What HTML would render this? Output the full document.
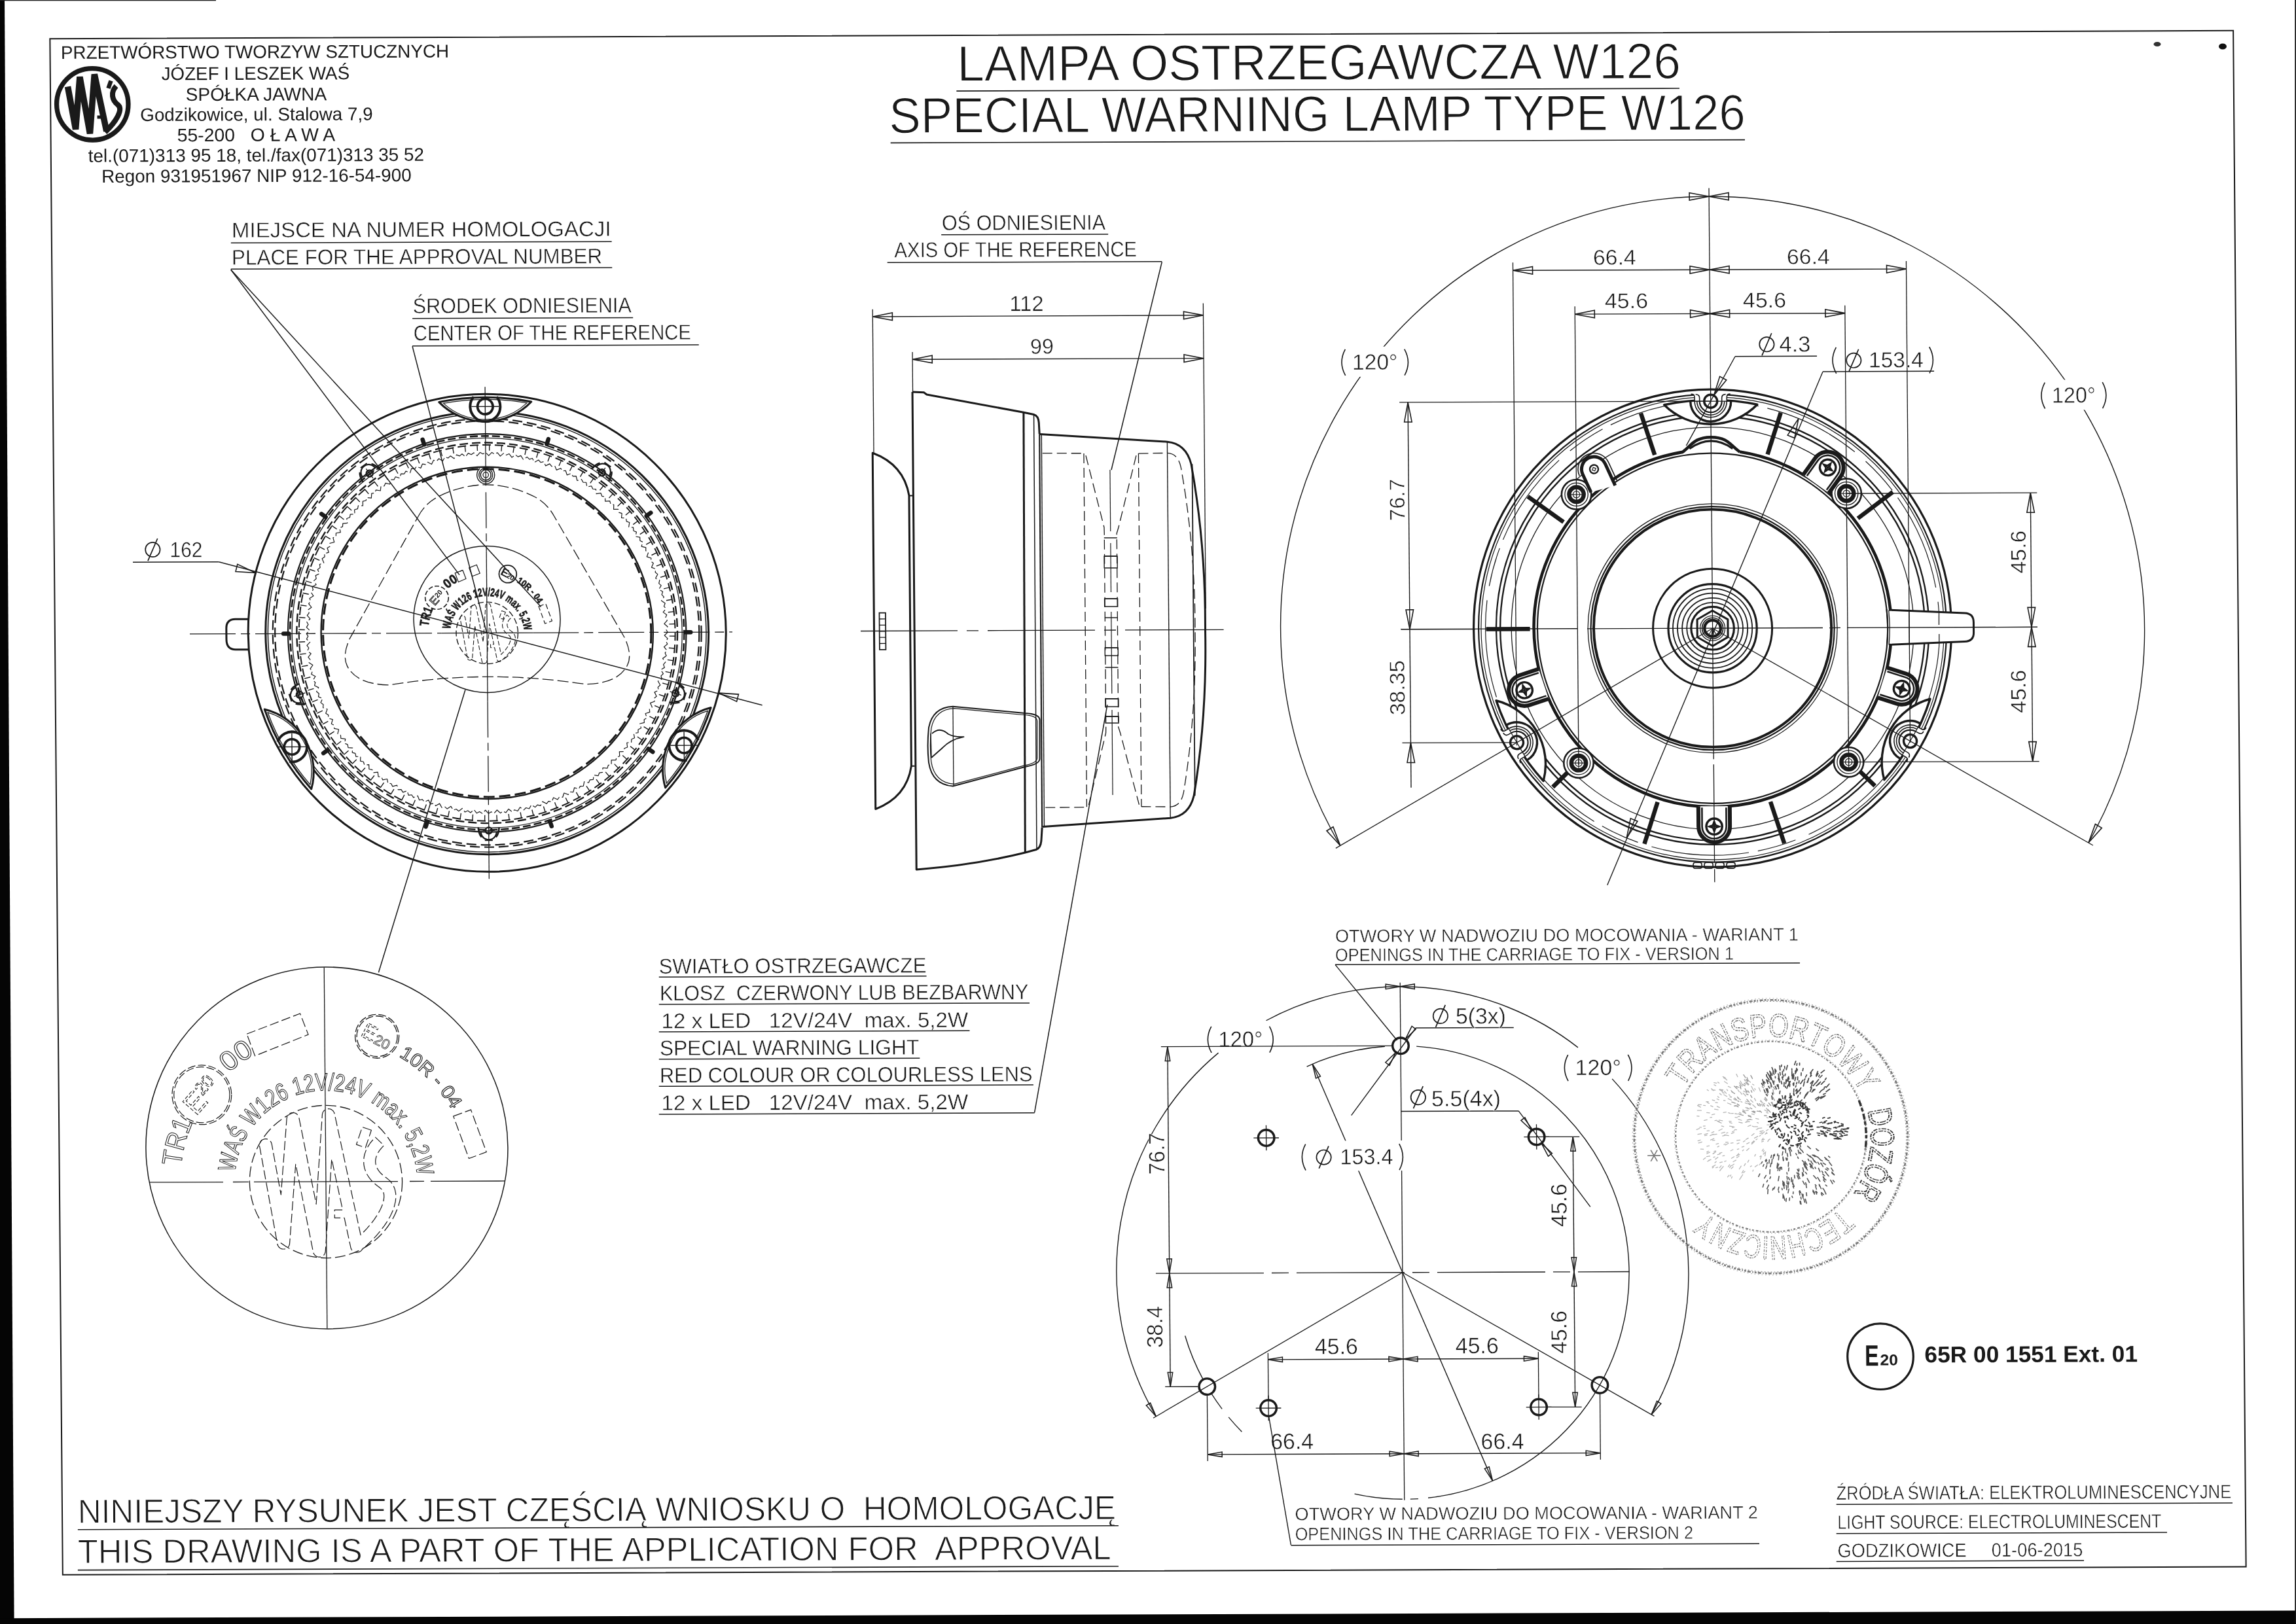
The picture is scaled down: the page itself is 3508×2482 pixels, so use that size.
<!DOCTYPE html>
<html><head><meta charset="utf-8"><title>LAMPA OSTRZEGAWCZA W126</title>
<style>
html,body{margin:0;padding:0;background:#fff}
body{width:3508px;height:2482px;overflow:hidden}
svg{display:block;filter:grayscale(1)}
svg text{font-family:"Liberation Sans",sans-serif;paint-order:fill stroke}
</style></head><body>
<svg width="3508" height="2482" viewBox="0 0 3508 2482">
<rect x="0" y="0" width="3508" height="2482" fill="#fff" stroke="none"/>
<g fill="none" stroke="#1a1a1a" stroke-width="1.5">
<g transform="matrix(1 -0.0037 0.0083 1 -10.3 6.490)">
<!-- s_static -->
<rect x="86.2" y="53" width="3335.8" height="2347.7" stroke-width="2"/>
<text x="102.6" y="83.8" textLength="593.2" lengthAdjust="spacingAndGlyphs" fill="#1a1a1a" stroke="none" font-size="28" xml:space="preserve">PRZETWÓRSTWO TWORZYW SZTUCZNYCH</text>
<text x="256" y="116.8" textLength="287.5" lengthAdjust="spacingAndGlyphs" fill="#1a1a1a" stroke="none" font-size="28" xml:space="preserve">JÓZEF I LESZEK WAŚ</text>
<text x="292.9" y="148.7" textLength="215.3" lengthAdjust="spacingAndGlyphs" fill="#1a1a1a" stroke="none" font-size="28" xml:space="preserve">SPÓŁKA JAWNA</text>
<text x="223.1" y="179.3" textLength="355.4" lengthAdjust="spacingAndGlyphs" fill="#1a1a1a" stroke="none" font-size="28" xml:space="preserve">Godzikowice, ul. Stalowa 7,9</text>
<text x="279.3" y="210.8" textLength="241.5" lengthAdjust="spacingAndGlyphs" fill="#1a1a1a" stroke="none" font-size="28" xml:space="preserve">55-200   O Ł A W A</text>
<text x="143.1" y="241.7" textLength="513.3" lengthAdjust="spacingAndGlyphs" fill="#1a1a1a" stroke="none" font-size="28" xml:space="preserve">tel.(071)313 95 18, tel./fax(071)313 35 52</text>
<text x="163.2" y="273.1" textLength="473.6" lengthAdjust="spacingAndGlyphs" fill="#1a1a1a" stroke="none" font-size="28" xml:space="preserve">Regon 931951967 NIP 912-16-54-900</text>
<circle cx="150.3" cy="153.4" r="54.7" stroke-width="7.3"/>
<g stroke-linejoin="bevel" stroke-linecap="butt">
<path d="M112.8 126.4 L124.3 191.5 L131.3 111.5 L146.1 198.1 L153.7 107.6 L171.5 194.6" stroke-width="9.6"/>
<path d="M157.4 173.1 L166.9 173.1" stroke-width="5"/>
<path d="M186.8 125.7 C177.7 135.2 180.1 147.2 189 154.2 S186.3 180.2 169.2 196.1" stroke-width="8"/>
<path d="M178.8 117.7 L174.7 129.2" stroke-width="6.5"/>
</g>
<text x="1471.8" y="122.8" textLength="1105.5" lengthAdjust="spacingAndGlyphs" fill="#1a1a1a" stroke="#fff" stroke-width="1.3" font-size="77">LAMPA OSTRZEGAWCZA W126</text>
<line x1="1470.5" y1="138.1" x2="2575.2" y2="138.1" stroke-width="1.6"/>
<text x="1367.1" y="201.7" textLength="1308.5" lengthAdjust="spacingAndGlyphs" fill="#1a1a1a" stroke="#fff" stroke-width="1.3" font-size="77">SPECIAL WARNING LAMP TYPE W126</text>
<line x1="1369.2" y1="217" x2="2674.5" y2="217" stroke-width="1.6"/>
<text x="110" y="2321.6" textLength="1586.2" lengthAdjust="spacingAndGlyphs" fill="#1a1a1a" stroke="#fff" stroke-width="1.1" font-size="51.5" xml:space="preserve">NINIEJSZY RYSUNEK JEST CZĘŚCIĄ WNIOSKU O  HOMOLOGACJĘ</text>
<line x1="109.8" y1="2331.6" x2="1699.9" y2="2331.6" stroke-width="1.6"/>
<text x="109.5" y="2383" textLength="1578.8" lengthAdjust="spacingAndGlyphs" fill="#1a1a1a" stroke="#fff" stroke-width="1.1" font-size="51.5" xml:space="preserve">THIS DRAWING IS A PART OF THE APPLICATION FOR  APPROVAL</text>
<line x1="109.3" y1="2393.5" x2="1699.4" y2="2393.5" stroke-width="1.6"/>
<text x="1004.8" y="1485.2" textLength="408.6" lengthAdjust="spacingAndGlyphs" fill="#1a1a1a" stroke="#fff" stroke-width="0.5" font-size="32.5" xml:space="preserve">SWIATŁO OSTRZEGAWCZE</text>
<line x1="1004.7" y1="1490.4" x2="1413.5" y2="1490.4" stroke-width="1.5"/>
<text x="1005.6" y="1526.3" textLength="563.5" lengthAdjust="spacingAndGlyphs" fill="#1a1a1a" stroke="#fff" stroke-width="0.5" font-size="32.5" xml:space="preserve">KLOSZ  CZERWONY LUB BEZBARWNY</text>
<line x1="1004.4" y1="1532.2" x2="1570.6" y2="1532.2" stroke-width="1.5"/>
<text x="1007.8" y="1568.7" textLength="468.9" lengthAdjust="spacingAndGlyphs" fill="#1a1a1a" stroke="#fff" stroke-width="0.5" font-size="32.5" xml:space="preserve">12 x LED   12V/24V  max. 5,2W</text>
<line x1="1004" y1="1574.2" x2="1478.7" y2="1574.2" stroke-width="1.5"/>
<text x="1004.9" y="1610.2" textLength="396.4" lengthAdjust="spacingAndGlyphs" fill="#1a1a1a" stroke="#fff" stroke-width="0.5" font-size="32.5" xml:space="preserve">SPECIAL WARNING LIGHT</text>
<line x1="1003.7" y1="1616" x2="1402.2" y2="1616" stroke-width="1.5"/>
<text x="1004.6" y="1651.9" textLength="569.6" lengthAdjust="spacingAndGlyphs" fill="#1a1a1a" stroke="#fff" stroke-width="0.5" font-size="32.5" xml:space="preserve">RED COLOUR OR COLOURLESS LENS</text>
<line x1="1003.3" y1="1657.4" x2="1575.5" y2="1657.4" stroke-width="1.5"/>
<text x="1006.7" y="1694" textLength="468.9" lengthAdjust="spacingAndGlyphs" fill="#1a1a1a" stroke="#fff" stroke-width="0.5" font-size="32.5" xml:space="preserve">12 x LED   12V/24V  max. 5,2W</text>
<line x1="1003" y1="1700.2" x2="1576.8" y2="1700.2" stroke-width="1.5"/>
<line x1="1576.8" y1="1699.8" x2="1693.2" y2="1076.8" stroke-width="1.5"/>
<text x="2796.9" y="2295.8" textLength="603.6" lengthAdjust="spacingAndGlyphs" fill="#1a1a1a" stroke="#fff" stroke-width="0.5" font-size="29.5" xml:space="preserve">ŹRÓDŁA ŚWIATŁA: ELEKTROLUMINESCENCYJNE</text>
<line x1="2796.9" y1="2303.1" x2="3402.2" y2="2303.1" stroke-width="1.5"/>
<text x="2798.4" y="2340.4" textLength="494.8" lengthAdjust="spacingAndGlyphs" fill="#1a1a1a" stroke="#fff" stroke-width="0.5" font-size="29.5" xml:space="preserve">LIGHT SOURCE: ELECTROLUMINESCENT</text>
<line x1="2796.5" y1="2347.7" x2="3301.8" y2="2347.7" stroke-width="1.5"/>
<text x="2798" y="2383.8" textLength="375" lengthAdjust="spacingAndGlyphs" fill="#1a1a1a" stroke="#fff" stroke-width="0.5" font-size="29.5" xml:space="preserve">GODZIKOWICE     01-06-2015</text>
<line x1="2796.2" y1="2390.3" x2="3174.5" y2="2390.3" stroke-width="1.5"/>
<circle cx="2866.1" cy="2077.3" r="50.3" stroke-width="3.2"/>
<text x="2842.2" y="2091.3" textLength="21.5" lengthAdjust="spacingAndGlyphs" font-weight="bold" fill="#1a1a1a" stroke="none" font-size="45">E</text>
<text x="2865.4" y="2090.6" textLength="27.5" lengthAdjust="spacingAndGlyphs" font-weight="bold" fill="#1a1a1a" stroke="none" font-size="23.5">20</text>
<text x="2933.6" y="2086.7" textLength="325.4" lengthAdjust="spacingAndGlyphs" font-weight="bold" fill="#1a1a1a" stroke="none" font-size="35" xml:space="preserve">65R 00 1551 Ext. 01</text>
<!-- s_front -->
<line x1="292.3" y1="963.5" x2="676.5" y2="963.6" stroke-width="1.3" stroke-dasharray="70 8 14 8"/>
<line x1="676.5" y1="963.6" x2="816.5" y2="963.6" stroke-width="1.3"/>
<line x1="816.5" y1="963.6" x2="1121.3" y2="963.6" stroke-width="1.3" stroke-dasharray="70 8 14 8"/>
<line x1="746.5" y1="587.6" x2="746.5" y2="738.6" stroke-width="1.3"/>
<line x1="746.5" y1="748.6" x2="746.5" y2="838.6" stroke-width="1.3" stroke-dasharray="55 8 12 8"/>
<line x1="746.5" y1="838.6" x2="746.5" y2="1068.6" stroke-width="1.3"/>
<line x1="746.5" y1="1068.6" x2="746.5" y2="1253.6" stroke-width="1.3" stroke-dasharray="55 8 12 8"/>
<line x1="746.5" y1="1253.6" x2="746.5" y2="1339.6" stroke-width="1.3"/>
<circle cx="746.5" cy="963.6" r="365" stroke-width="3"/>
<path d="M382.2 941.1 H362.2 Q348.2 941.1 348.2 955.1 V972.1 Q348.2 987.6 362.2 987.6 H382.7" stroke-width="3"/>
<circle cx="746.5" cy="963.6" r="338.4" stroke-width="3"/>
<circle cx="746.5" cy="963.6" r="334.8" stroke-width="1.5"/>
<circle cx="746.5" cy="963.6" r="327.4" stroke-width="2.2" stroke-dasharray="15 7"/>
<circle cx="746.5" cy="963.6" r="324" stroke-width="2.2" stroke-dasharray="15 7"/>
<circle cx="746.5" cy="963.6" r="304.2" stroke-width="2.2"/>
<circle cx="746.5" cy="963.6" r="301" stroke-width="2.6" stroke-dasharray="12 5"/>
<circle cx="746.5" cy="963.6" r="298" stroke-width="1.3"/>
<circle cx="746.5" cy="963.6" r="290.8" stroke-width="2.4" stroke-dasharray="13 6"/>
<circle cx="746.5" cy="963.6" r="287.4" stroke-width="2" stroke-dasharray="13 6"/>
<path d="M1034.4 969.6L1024.9 969.4M1033.4 988.4L1024 987.6M1031.2 1007.1L1021.8 1005.7M1027.7 1025.7L1018.5 1023.6M1023.1 1043.9L1013.9 1041.3M1017.2 1061.8L1008.3 1058.6M1010.2 1079.3L1001.5 1075.5M1002.1 1096.3L993.6 1092M992.8 1112.8L984.7 1107.8M982.6 1128.6L974.8 1123.1M971.3 1143.6L963.9 1137.7M959 1158L952 1151.5M945.8 1171.4L939.3 1164.6M931.8 1184L925.7 1176.8M917 1195.7L911.4 1188M901.5 1206.3L896.3 1198.3M885.2 1215.9L880.7 1207.6M868.4 1224.5L864.4 1215.9M851.1 1231.9L847.7 1223M833.3 1238.2L830.5 1229.1M815.2 1243.3L812.9 1234M796.8 1247.2L795.1 1237.8M778.1 1249.8L777.1 1240.4M759.3 1251.3L758.9 1241.8M740.5 1251.5L740.7 1242M721.7 1250.5L722.5 1241M702.9 1248.3L704.4 1238.9M684.4 1244.8L686.5 1235.5M666.2 1240.1L668.8 1231M648.2 1234.3L651.5 1225.4M630.7 1227.3L634.6 1218.6M613.7 1219.1L618.1 1210.7M597.3 1209.9L602.2 1201.8M581.5 1199.6L587 1191.8M566.4 1188.3L572.4 1180.9M552.1 1176.1L558.5 1169.1M538.6 1162.9L545.5 1156.3M526 1148.9L533.3 1142.8M514.4 1134.1L522.1 1128.4M503.7 1118.5L511.7 1113.4M494.1 1102.3L502.5 1097.7M485.6 1085.5L494.2 1081.5M478.2 1068.2L487 1064.7M471.9 1050.4L481 1047.6M466.8 1032.3L476 1030M462.9 1013.8L472.3 1012.2M460.2 995.2L469.7 994.1M458.8 976.4L468.3 976M458.6 957.5L468.1 957.7M459.6 938.7L469 939.5M461.8 920L471.2 921.4M465.3 901.5L474.6 903.5M469.9 883.2L479.1 885.9M475.8 865.3L484.7 868.5M482.8 847.8L491.5 851.6M490.9 830.8L499.4 835.2M500.2 814.4L508.3 819.3M510.4 798.6L518.2 804M521.7 783.5L529.2 789.4M534 769.2L541 775.6M547.2 755.7L553.7 762.6M561.2 743.1L567.3 750.4M576 731.5L581.6 739.1M591.5 720.8L596.7 728.8M607.8 711.2L612.3 719.5M624.6 702.7L628.6 711.3M641.9 695.2L645.3 704.1M659.7 689L662.5 698M677.8 683.9L680.1 693.1M696.2 680L697.9 689.3M714.9 677.3L715.9 686.8M733.7 675.9L734.1 685.3M752.5 675.6L752.3 685.1M771.4 676.6L770.5 686.1M790.1 678.9L788.6 688.3M808.6 682.3L806.5 691.6M826.9 687L824.2 696.1M844.8 692.9L841.5 701.8M862.3 699.9L858.4 708.6M879.3 708L874.9 716.4M895.7 717.2L890.8 725.4M911.5 727.5L906 735.3M926.6 738.8L920.6 746.2M940.9 751.1L934.5 758.1M954.4 764.2L947.5 770.8M967 778.3L959.7 784.4M978.6 793.1L971 798.7M989.3 808.6L981.3 813.7M998.9 824.8L990.6 829.4M1007.4 841.6L998.8 845.7M1014.8 859L1006 862.4M1021.1 876.7L1012 879.6M1026.2 894.9L1017 897.1M1030.1 913.3L1020.7 915M1032.8 932L1023.3 933M1034.2 950.8L1024.7 951.2" stroke-width="1.4"/>
<path d="M1022.5 963.6 L1017.5 968.3 L1022.3 973.2 L1019.7 977.4 L1021.9 981.6 L1016.6 986 L1021.1 991.2 L1018.2 995.2 L1020.1 999.6 L1014.5 1003.6 L1018.7 1009.1 L1015.5 1012.9 L1017.2 1017.4 L1011.3 1021.1 L1015.2 1026.8 L1011.7 1030.4 L1013.1 1035 L1007 1038.3 L1010.4 1044.3 L1006.8 1047.6 L1007.9 1052.3 L1001.6 1055.1 L1004.6 1061.4 L1000.7 1064.5 L1001.5 1069.2 L995 1071.6 L997.7 1078 L993.6 1080.9 L994 1085.6 L987.4 1087.7 L989.6 1094.2 L985.4 1096.8 L985.5 1101.6 L978.8 1103.1 L980.6 1109.8 L976.1 1112.1 L976 1116.9 L969.2 1118 L970.5 1124.8 L965.9 1126.8 L965.5 1131.6 L958.6 1132.3 L959.5 1139.1 L954.8 1140.8 L954 1145.6 L947.1 1145.8 L947.5 1152.7 L942.7 1154.1 L941.7 1158.7 L934.8 1158.5 L934.7 1165.4 L929.9 1166.5 L928.5 1171.1 L921.6 1170.4 L921.1 1177.3 L916.2 1178.1 L914.5 1182.5 L907.7 1181.4 L906.8 1188.3 L901.8 1188.7 L899.8 1193.1 L893.1 1191.5 L891.7 1198.3 L886.8 1198.4 L884.5 1202.6 L877.9 1200.6 L876.1 1207.3 L871.1 1207 L868.6 1211.1 L862.1 1208.7 L859.9 1215.2 L854.9 1214.7 L852.1 1218.6 L845.8 1215.7 L843.2 1222.1 L838.2 1221.2 L835.2 1224.9 L829.1 1221.7 L826 1227.9 L821.2 1226.7 L817.9 1230.2 L812.1 1226.5 L808.6 1232.5 L803.8 1231 L800.3 1234.3 L794.7 1230.2 L790.9 1236 L786.2 1234.2 L782.5 1237.2 L777.2 1232.8 L773 1238.3 L768.4 1236.2 L764.6 1239 L759.5 1234.3 L754.9 1239.4 L750.6 1237 L746.5 1239.6 L741.8 1234.5 L736.9 1239.4 L732.7 1236.7 L728.5 1239 L724.1 1233.6 L718.9 1238.2 L714.8 1235.2 L710.5 1237.2 L706.4 1231.6 L700.9 1235.8 L697.1 1232.6 L692.7 1234.3 L689 1228.4 L683.2 1232.2 L679.6 1228.8 L675.1 1230.2 L671.8 1224.1 L665.8 1227.5 L662.4 1223.8 L657.8 1224.9 L654.9 1218.6 L648.7 1221.7 L645.6 1217.8 L640.9 1218.6 L638.4 1212.1 L632 1214.7 L629.2 1210.6 L624.4 1211.1 L622.4 1204.5 L615.9 1206.7 L613.3 1202.4 L608.5 1202.6 L606.9 1195.9 L600.2 1197.6 L597.9 1193.2 L593.2 1193.1 L592 1186.2 L585.2 1187.6 L583.2 1183 L578.5 1182.5 L577.8 1175.7 L570.9 1176.5 L569.2 1171.9 L564.5 1171.1 L564.3 1164.2 L557.4 1164.6 L556 1159.8 L551.3 1158.7 L551.6 1151.8 L544.6 1151.8 L543.6 1146.9 L539 1145.6 L539.7 1138.7 L532.8 1138.2 L532 1133.3 L527.5 1131.6 L528.7 1124.8 L521.8 1123.8 L521.4 1118.9 L517 1116.9 L518.6 1110.2 L511.8 1108.8 L511.7 1103.8 L507.5 1101.6 L509.5 1095 L502.8 1093.1 L503 1088.2 L499 1085.6 L501.4 1079.2 L494.9 1076.9 L495.4 1072 L491.5 1069.2 L494.4 1062.9 L488 1060.2 L488.9 1055.3 L485.2 1052.3 L488.4 1046.2 L482.2 1043.1 L483.4 1038.3 L479.9 1035 L483.6 1029.1 L477.6 1025.7 L479.1 1020.9 L475.8 1017.4 L479.8 1011.8 L474.1 1007.9 L475.9 1003.3 L472.9 999.6 L477.2 994.3 L471.8 990 L473.9 985.5 L471.1 981.6 L475.8 976.6 L470.6 972 L473 967.6 L470.5 963.6 L475.5 958.8 L470.7 953.9 L473.4 949.7 L471.1 945.5 L476.4 941.1 L471.9 935.9 L474.8 931.9 L472.9 927.5 L478.5 923.5 L474.3 918 L477.5 914.2 L475.8 909.7 L481.7 906.1 L477.9 900.3 L481.3 896.7 L479.9 892.1 L486 888.9 L482.6 882.9 L486.2 879.5 L485.2 874.9 L491.4 872 L488.4 865.8 L492.3 862.7 L491.5 858 L498 855.5 L495.4 849.1 L499.4 846.3 L499 841.5 L505.6 839.5 L503.4 832.9 L507.6 830.4 L507.5 825.6 L514.2 824 L512.4 817.3 L516.9 815 L517 810.2 L523.8 809.1 L522.5 802.3 L527.1 800.3 L527.5 795.6 L534.4 794.9 L533.5 788 L538.2 786.3 L539 781.6 L545.9 781.4 L545.5 774.5 L550.3 773.1 L551.3 768.4 L558.3 768.6 L558.3 761.7 L563.1 760.6 L564.5 756.1 L571.4 756.7 L571.9 749.8 L576.8 749.1 L578.5 744.6 L585.3 745.7 L586.2 738.9 L591.2 738.4 L593.2 734.1 L599.9 735.7 L601.3 728.9 L606.3 728.8 L608.5 724.5 L615.1 726.6 L616.9 719.9 L621.9 720.1 L624.4 716 L630.9 718.5 L633.1 711.9 L638.1 712.5 L640.9 708.6 L647.2 711.4 L649.8 705.1 L654.8 705.9 L657.8 702.2 L663.9 705.5 L667 699.3 L671.8 700.5 L675.1 697 L680.9 700.6 L684.4 694.6 L689.2 696.1 L692.7 692.9 L698.3 696.9 L702.1 691.2 L706.8 693 L710.5 689.9 L715.8 694.3 L720 688.8 L724.6 691 L728.5 688.2 L733.5 692.9 L738.1 687.7 L742.4 690.1 L746.5 687.6 L751.2 692.6 L756.1 687.7 L760.3 690.4 L764.6 688.2 L768.9 693.5 L774.2 689 L778.2 691.9 L782.5 689.9 L786.6 695.5 L792.1 691.4 L795.9 694.6 L800.3 692.9 L804 698.7 L809.8 694.9 L813.4 698.4 L817.9 697 L821.2 703.1 L827.2 699.6 L830.6 703.3 L835.2 702.2 L838.1 708.5 L844.3 705.5 L847.4 709.4 L852.1 708.6 L854.6 715 L861 712.4 L863.8 716.5 L868.6 716 L870.6 722.6 L877.1 720.4 L879.7 724.7 L884.5 724.5 L886.1 731.3 L892.8 729.5 L895.1 733.9 L899.8 734.1 L901 740.9 L907.8 739.6 L909.8 744.1 L914.5 744.6 L915.2 751.5 L922.1 750.6 L923.8 755.3 L928.5 756.1 L928.7 763 L935.6 762.5 L937 767.3 L941.7 768.4 L941.4 775.3 L948.4 775.3 L949.4 780.2 L954 781.6 L953.3 788.5 L960.2 788.9 L961 793.9 L965.5 795.6 L964.3 802.4 L971.2 803.3 L971.6 808.3 L976 810.2 L974.4 817 L981.2 818.3 L981.3 823.3 L985.5 825.6 L983.5 832.2 L990.2 834 L990 839 L994 841.5 L991.6 848 L998.1 850.2 L997.6 855.2 L1001.5 858 L998.6 864.3 L1005 866.9 L1004.2 871.8 L1007.9 874.9 L1004.6 881 L1010.8 884 L1009.6 888.9 L1013.1 892.1 L1009.5 898 L1015.4 901.5 L1013.9 906.2 L1017.2 909.7 L1013.2 915.3 L1018.9 919.2 L1017.1 923.9 L1020.1 927.5 L1015.8 932.9 L1021.2 937.1 L1019.1 941.6 L1021.9 945.5 L1017.2 950.6 L1022.4 955.1 L1020 959.5Z" stroke-width="1.2" stroke-dasharray="16 4" stroke-linejoin="round"/>
<circle cx="746.5" cy="963.6" r="253.6" stroke-width="2.4"/>
<circle cx="746.5" cy="963.6" r="250.6" stroke-width="3" stroke-dasharray="17 7"/>
<line x1="650.4" y1="667.8" x2="652.9" y2="675.4" stroke-width="6.5" stroke-linecap="round"/>
<line x1="494.9" y1="780.8" x2="501.4" y2="785.5" stroke-width="6.5" stroke-linecap="round"/>
<line x1="435.5" y1="963.6" x2="443.5" y2="963.6" stroke-width="6.5" stroke-linecap="round"/>
<line x1="494.9" y1="1146.4" x2="501.4" y2="1141.7" stroke-width="6.5" stroke-linecap="round"/>
<line x1="650.4" y1="1259.4" x2="652.9" y2="1251.7" stroke-width="6.5" stroke-linecap="round"/>
<line x1="842.6" y1="667.8" x2="840.1" y2="675.4" stroke-width="6.5" stroke-linecap="round"/>
<line x1="998.1" y1="780.8" x2="991.6" y2="785.5" stroke-width="6.5" stroke-linecap="round"/>
<line x1="1057.5" y1="963.6" x2="1049.5" y2="963.6" stroke-width="6.5" stroke-linecap="round"/>
<line x1="998.1" y1="1146.4" x2="991.6" y2="1141.7" stroke-width="6.5" stroke-linecap="round"/>
<line x1="842.6" y1="1259.4" x2="840.1" y2="1251.7" stroke-width="6.5" stroke-linecap="round"/>
<g transform="translate(746.5 1265.6) rotate(0)">
<circle cx="0" cy="0" r="5" stroke-width="2.4"/>
<line x1="-9" y1="0" x2="9" y2="0" stroke-width="1.2"/>
<line x1="0" y1="-9" x2="0" y2="9" stroke-width="1.2"/>
<path d="M-12 2 A12 12 0 0 0 12 2" stroke-width="2.2"/>
<path d="M-16 -5 Q-15 6 -11 10 M16 -5 Q15 6 11 10" stroke-width="2.6"/>
<line x1="-6" y1="15" x2="6" y2="15" stroke-width="2"/>
</g>
<g transform="translate(459.3 1056.9) rotate(72)">
<circle cx="0" cy="0" r="5" stroke-width="2.4"/>
<line x1="-9" y1="0" x2="9" y2="0" stroke-width="1.2"/>
<line x1="0" y1="-9" x2="0" y2="9" stroke-width="1.2"/>
<path d="M-12 2 A12 12 0 0 0 12 2" stroke-width="2.2"/>
<path d="M-16 -5 Q-15 6 -11 10 M16 -5 Q15 6 11 10" stroke-width="2.6"/>
<line x1="-6" y1="15" x2="6" y2="15" stroke-width="2"/>
</g>
<g transform="translate(569 719.2) rotate(144)">
<circle cx="0" cy="0" r="5" stroke-width="2.4"/>
<line x1="-9" y1="0" x2="9" y2="0" stroke-width="1.2"/>
<line x1="0" y1="-9" x2="0" y2="9" stroke-width="1.2"/>
<path d="M-12 2 A12 12 0 0 0 12 2" stroke-width="2.2"/>
<path d="M-16 -5 Q-15 6 -11 10 M16 -5 Q15 6 11 10" stroke-width="2.6"/>
<line x1="-6" y1="15" x2="6" y2="15" stroke-width="2"/>
</g>
<g transform="translate(924 719.2) rotate(216)">
<circle cx="0" cy="0" r="5" stroke-width="2.4"/>
<line x1="-9" y1="0" x2="9" y2="0" stroke-width="1.2"/>
<line x1="0" y1="-9" x2="0" y2="9" stroke-width="1.2"/>
<path d="M-12 2 A12 12 0 0 0 12 2" stroke-width="2.2"/>
<path d="M-16 -5 Q-15 6 -11 10 M16 -5 Q15 6 11 10" stroke-width="2.6"/>
<line x1="-6" y1="15" x2="6" y2="15" stroke-width="2"/>
</g>
<g transform="translate(1033.7 1056.9) rotate(-72)">
<circle cx="0" cy="0" r="5" stroke-width="2.4"/>
<line x1="-9" y1="0" x2="9" y2="0" stroke-width="1.2"/>
<line x1="0" y1="-9" x2="0" y2="9" stroke-width="1.2"/>
<path d="M-12 2 A12 12 0 0 0 12 2" stroke-width="2.2"/>
<path d="M-16 -5 Q-15 6 -11 10 M16 -5 Q15 6 11 10" stroke-width="2.6"/>
<line x1="-6" y1="15" x2="6" y2="15" stroke-width="2"/>
</g>
<circle cx="746.5" cy="722.1" r="10.5" stroke-width="1.3"/>
<circle cx="746.5" cy="722.1" r="8" stroke-width="1.6"/>
<circle cx="746.5" cy="722.1" r="4.2" stroke-width="1.3"/>
<path d="M737.5 712.1 A13.5 13.5 0 1 0 755.5 712.1" stroke-width="1.4"/>
<g transform="translate(746.5 963.6) rotate(0)">
<path d="M-70.5 -353 A360 360 0 0 1 70.5 -353 A98 98 0 0 1 -70.5 -353 Z" stroke-width="3" fill="#fff" stroke-linejoin="round"/>
<path d="M-63.8 -351.2 A357 357 0 0 1 63.8 -351.2 A94 94 0 0 1 -63.8 -351.2 Z" stroke-width="1.3"/>
<path d="M17.6 -360.8 A23 23 0 1 1 -17.6 -360.8" stroke-width="4"/>
<circle cx="0" cy="-346" r="11.8" stroke-width="3.6"/>
</g>
<line x1="725.5" y1="617.6" x2="767.5" y2="617.6" stroke-width="1.4"/>
<line x1="746.5" y1="603.6" x2="746.5" y2="638.6" stroke-width="1.4"/>
<g transform="translate(746.5 963.6) rotate(240)">
<path d="M-70.5 -353 A360 360 0 0 1 70.5 -353 A98 98 0 0 1 -70.5 -353 Z" stroke-width="3" fill="#fff" stroke-linejoin="round"/>
<path d="M-63.8 -351.2 A357 357 0 0 1 63.8 -351.2 A94 94 0 0 1 -63.8 -351.2 Z" stroke-width="1.3"/>
<path d="M17.6 -360.8 A23 23 0 1 1 -17.6 -360.8" stroke-width="4"/>
<circle cx="0" cy="-346" r="11.8" stroke-width="3.6"/>
</g>
<line x1="425.9" y1="1136.6" x2="467.9" y2="1136.6" stroke-width="1.4"/>
<line x1="446.9" y1="1115.6" x2="446.9" y2="1157.6" stroke-width="1.4"/>
<g transform="translate(746.5 963.6) rotate(120)">
<path d="M-70.5 -353 A360 360 0 0 1 70.5 -353 A98 98 0 0 1 -70.5 -353 Z" stroke-width="3" fill="#fff" stroke-linejoin="round"/>
<path d="M-63.8 -351.2 A357 357 0 0 1 63.8 -351.2 A94 94 0 0 1 -63.8 -351.2 Z" stroke-width="1.3"/>
<path d="M17.6 -360.8 A23 23 0 1 1 -17.6 -360.8" stroke-width="4"/>
<circle cx="0" cy="-346" r="11.8" stroke-width="3.6"/>
</g>
<line x1="1025.1" y1="1136.6" x2="1067.1" y2="1136.6" stroke-width="1.4"/>
<line x1="1046.1" y1="1115.6" x2="1046.1" y2="1157.6" stroke-width="1.4"/>
<g transform="translate(746.5 963.6)">
<path d="M-104 -178 Q-92 -200 -70 -210 Q0 -243 70 -210 Q92 -200 104 -178 L210 8 Q222 34 214 50 Q200 78 150 79 Q0 55 -150 79 Q-200 78 -214 50 Q-222 34 -210 8 Z" stroke-width="1.3" stroke-dasharray="17 6"/>
</g>
<circle cx="746.5" cy="942.7" r="112" stroke-width="1.5"/>
<text transform="translate(691.1 952.4) rotate(-78.5) scale(0.653 1)" text-anchor="middle" font-size="17.8" font-weight="bold" fill="#1a1a1a" stroke="#1a1a1a" stroke-width="0.7">W</text>
<text transform="translate(693.9 943.1) rotate(-68.8) scale(0.653 1)" text-anchor="middle" font-size="17.8" font-weight="bold" fill="#1a1a1a" stroke="#1a1a1a" stroke-width="0.7">A</text>
<text transform="translate(697.3 935.8) rotate(-60.6) scale(0.653 1)" text-anchor="middle" font-size="17.8" font-weight="bold" fill="#1a1a1a" stroke="#1a1a1a" stroke-width="0.7">Ś</text>
<text transform="translate(704.6 925.7) rotate(-47.8) scale(0.653 1)" text-anchor="middle" font-size="17.8" font-weight="bold" fill="#1a1a1a" stroke="#1a1a1a" stroke-width="0.7">W</text>
<text transform="translate(710.9 919.7) rotate(-39) scale(0.653 1)" text-anchor="middle" font-size="17.8" font-weight="bold" fill="#1a1a1a" stroke="#1a1a1a" stroke-width="0.7">1</text>
<text transform="translate(716.2 915.9) rotate(-32.5) scale(0.653 1)" text-anchor="middle" font-size="17.8" font-weight="bold" fill="#1a1a1a" stroke="#1a1a1a" stroke-width="0.7">2</text>
<text transform="translate(721.8 912.8) rotate(-25.9) scale(0.653 1)" text-anchor="middle" font-size="17.8" font-weight="bold" fill="#1a1a1a" stroke="#1a1a1a" stroke-width="0.7">6</text>
<text transform="translate(730.8 909.3) rotate(-16.1) scale(0.653 1)" text-anchor="middle" font-size="17.8" font-weight="bold" fill="#1a1a1a" stroke="#1a1a1a" stroke-width="0.7">1</text>
<text transform="translate(737.1 907.9) rotate(-9.6) scale(0.653 1)" text-anchor="middle" font-size="17.8" font-weight="bold" fill="#1a1a1a" stroke="#1a1a1a" stroke-width="0.7">2</text>
<text transform="translate(744.1 907.1) rotate(-2.4) scale(0.653 1)" text-anchor="middle" font-size="17.8" font-weight="bold" fill="#1a1a1a" stroke="#1a1a1a" stroke-width="0.7">V</text>
<text transform="translate(749.6 907.2) rotate(3.2) scale(0.653 1)" text-anchor="middle" font-size="17.8" font-weight="bold" fill="#1a1a1a" stroke="#1a1a1a" stroke-width="0.7">/</text>
<text transform="translate(754.4 907.7) rotate(8.1) scale(0.653 1)" text-anchor="middle" font-size="17.8" font-weight="bold" fill="#1a1a1a" stroke="#1a1a1a" stroke-width="0.7">2</text>
<text transform="translate(760.7 908.9) rotate(14.6) scale(0.653 1)" text-anchor="middle" font-size="17.8" font-weight="bold" fill="#1a1a1a" stroke="#1a1a1a" stroke-width="0.7">4</text>
<text transform="translate(767.5 911.1) rotate(21.8) scale(0.653 1)" text-anchor="middle" font-size="17.8" font-weight="bold" fill="#1a1a1a" stroke="#1a1a1a" stroke-width="0.7">V</text>
<text transform="translate(778.3 916.9) rotate(34.2) scale(0.653 1)" text-anchor="middle" font-size="17.8" font-weight="bold" fill="#1a1a1a" stroke="#1a1a1a" stroke-width="0.7">m</text>
<text transform="translate(784.8 922.1) rotate(42.7) scale(0.653 1)" text-anchor="middle" font-size="17.8" font-weight="bold" fill="#1a1a1a" stroke="#1a1a1a" stroke-width="0.7">a</text>
<text transform="translate(789.3 926.7) rotate(49.2) scale(0.653 1)" text-anchor="middle" font-size="17.8" font-weight="bold" fill="#1a1a1a" stroke="#1a1a1a" stroke-width="0.7">x</text>
<text transform="translate(792.3 930.5) rotate(54.2) scale(0.653 1)" text-anchor="middle" font-size="17.8" font-weight="bold" fill="#1a1a1a" stroke="#1a1a1a" stroke-width="0.7">.</text>
<text transform="translate(796.5 937.3) rotate(62.3) scale(0.653 1)" text-anchor="middle" font-size="17.8" font-weight="bold" fill="#1a1a1a" stroke="#1a1a1a" stroke-width="0.7">5</text>
<text transform="translate(798.6 941.7) rotate(67.2) scale(0.653 1)" text-anchor="middle" font-size="17.8" font-weight="bold" fill="#1a1a1a" stroke="#1a1a1a" stroke-width="0.7">,</text>
<text transform="translate(800.3 946.2) rotate(72.1) scale(0.653 1)" text-anchor="middle" font-size="17.8" font-weight="bold" fill="#1a1a1a" stroke="#1a1a1a" stroke-width="0.7">2</text>
<text transform="translate(802.3 954.7) rotate(80.9) scale(0.653 1)" text-anchor="middle" font-size="17.8" font-weight="bold" fill="#1a1a1a" stroke="#1a1a1a" stroke-width="0.7">W</text>
<text transform="translate(657.6 949.3) rotate(-80.9) scale(0.753 1)" text-anchor="middle" font-size="19.9" font-weight="bold" fill="#1a1a1a" stroke="#1a1a1a" stroke-width="0.7">T</text>
<text transform="translate(659.7 939.6) rotate(-74.5) scale(0.753 1)" text-anchor="middle" font-size="19.9" font-weight="bold" fill="#1a1a1a" stroke="#1a1a1a" stroke-width="0.7">R</text>
<text transform="translate(662.7 930.5) rotate(-68.4) scale(0.753 1)" text-anchor="middle" font-size="19.9" font-weight="bold" fill="#1a1a1a" stroke="#1a1a1a" stroke-width="0.7">1</text>
<text transform="translate(690.6 892.9) rotate(-38.3) scale(0.902 1)" text-anchor="middle" font-size="19.9" font-weight="bold" fill="#1a1a1a" stroke="#1a1a1a" stroke-width="0.7">0</text>
<text transform="translate(698.8 887.2) rotate(-32) scale(0.902 1)" text-anchor="middle" font-size="19.9" font-weight="bold" fill="#1a1a1a" stroke="#1a1a1a" stroke-width="0.7">0</text>
<circle cx="670.2" cy="909.5" r="17.8" stroke-width="1.6" stroke-dasharray="7 3"/>
<g transform="translate(670.2 909.5) rotate(-48.7)">
<text x="-6.1" y="6.1" text-anchor="middle" fill="none" stroke="#1a1a1a" stroke-width="1" font-size="17.8">E</text>
<text x="6.1" y="1.6" text-anchor="middle" font-weight="bold" fill="#1a1a1a" stroke="none" font-size="10.9">20</text>
</g>
<path d="M698.3 872 L710.1 867.6 L714.9 880.6 L703.3 885.6Z" stroke-width="1.2"/>
<path d="M719.8 864 L731.4 859.5 L736.3 872.5 L724.6 876.9Z" stroke-width="1.2"/>
<line x1="710.1" y1="867.6" x2="706" y2="869.2" stroke-width="1.2"/>
<circle cx="778.9" cy="873.7" r="13.4" stroke-width="1.8"/>
<g transform="translate(778.9 873.7) rotate(27.8)">
<text x="-4.9" y="5.7" text-anchor="middle" font-weight="bold" fill="#1a1a1a" stroke="none" font-size="17">E</text>
<text x="5.7" y="5.7" text-anchor="middle" font-weight="bold" fill="#1a1a1a" stroke="none" font-size="10.9">20</text>
</g>
<text transform="translate(795 887.9) rotate(32.7) scale(0.893 1)" text-anchor="middle" font-size="13.7" font-weight="bold" fill="#1a1a1a" stroke="#1a1a1a" stroke-width="0.7">1</text>
<text transform="translate(800.6 891.8) rotate(37) scale(0.893 1)" text-anchor="middle" font-size="13.7" font-weight="bold" fill="#1a1a1a" stroke="#1a1a1a" stroke-width="0.7">0</text>
<text transform="translate(806.7 896.8) rotate(42) scale(0.893 1)" text-anchor="middle" font-size="13.7" font-weight="bold" fill="#1a1a1a" stroke="#1a1a1a" stroke-width="0.7">R</text>
<text transform="translate(813.6 903.8) rotate(48.3) scale(0.893 1)" text-anchor="middle" font-size="13.7" font-weight="bold" fill="#1a1a1a" stroke="#1a1a1a" stroke-width="0.7">-</text>
<text transform="translate(819.2 910.7) rotate(54) scale(0.893 1)" text-anchor="middle" font-size="13.7" font-weight="bold" fill="#1a1a1a" stroke="#1a1a1a" stroke-width="0.7">0</text>
<text transform="translate(823 916.4) rotate(58.3) scale(0.893 1)" text-anchor="middle" font-size="13.7" font-weight="bold" fill="#1a1a1a" stroke="#1a1a1a" stroke-width="0.7">4</text>
<path d="M825.7 923.4 L836.5 919.4 L845.9 945.6 L835.1 949.6Z" stroke-width="1.2" stroke-dasharray="8 4"/>
<circle cx="746.5" cy="963.6" r="47.2" stroke-width="1.4" stroke-dasharray="9 4"/>
<path d="M774.9 931.8 L769.2 929.9 L765.5 940.7 L771.1 942.6 L774.9 931.8ZM716.4 1002.8 L716.5 1003.1 L716.7 1003.4 L716.9 1003.7 L717.2 1004 L717.5 1004.3 L717.8 1004.5 L718.1 1004.7 L718.4 1004.9 L718.8 1005 L719.2 1005.1 L719.5 1005.2 L719.9 1005.2 L720.3 1005.2 L720.7 1005.1 L721 1005 L721.4 1004.9 L721.7 1004.7 L722.1 1004.5 L722.4 1004.3 L722.7 1004.1 L722.9 1003.8 L723.1 1003.5 L723.3 1003.1 L723.5 1002.8 L723.6 1002.4 L723.7 1002.1 L723.7 1001.7 L727.9 952.7 L738.3 1007.1 L738.4 1007.4 L738.5 1007.8 L738.6 1008.1 L738.8 1008.5 L739.1 1008.8 L739.3 1009.1 L739.6 1009.3 L739.9 1009.5 L740.2 1009.7 L740.6 1009.9 L740.9 1010 L741.3 1010.1 L741.7 1010.2 L742 1010.2 L742.4 1010.2 L742.8 1010.1 L743.2 1010 L743.5 1009.9 L743.8 1009.7 L744.2 1009.5 L744.5 1009.3 L744.7 1009 L745 1008.7 L745.2 1008.4 L745.4 1008.1 L745.6 1007.8 L745.7 1007.4 L745.8 1007 L745.8 1006.6 L750.2 949.6 L756.7 981.1 L751.7 981.1 L751.7 986 L757.7 986 L761.5 1004.4 L761.6 1004.8 L761.7 1005.1 L761.9 1005.4 L762.1 1005.8 L762.3 1006.1 L762.6 1006.3 L762.8 1006.6 L763.1 1006.8 L763.5 1007 L763.8 1007.2 L764.2 1007.3 L764.5 1007.4 L764.9 1007.4 L765.3 1007.4 L765.6 1007.4 L766 1007.4 L766.4 1007.3 L766.7 1007.1 L767 1007 L767 1007 L767 1007 L767.1 1007 L767.4 1006.8 L767.7 1006.6 L768 1006.3 L768.2 1006 L768.3 1005.9 L770.6 1003.9 L770.7 1003.8 L773.9 1000.7 L774.1 1000.6 L777 997.5 L777.1 997.4 L779.7 994.4 L779.9 994.2 L782.2 991.3 L782.3 991.1 L784.3 988.2 L784.4 988 L786 985.2 L786.2 984.9 L787.5 982.2 L787.6 981.9 L788.6 979.3 L788.7 978.9 L789.3 976.5 L789.4 976 L789.6 973.7 L789.7 973.4 L789.7 973.1 L789.6 971 L789.6 970.7 L789.5 970.3 L789.1 968.4 L789 968 L788.8 967.7 L788 965.9 L787.8 965.6 L787.6 965.2 L786.5 963.6 L786.2 963.4 L786 963.1 L784.4 961.7 L784.1 961.5 L782.5 960.3 L781.2 959.2 L780.1 958 L779.1 956.8 L778.4 955.7 L777.9 954.5 L777.5 953.3 L777.3 952.1 L777.3 951 L777.4 949.7 L777.7 948.5 L778.2 947.1 L778.9 945.8 L779.8 944.3 L781 942.9 L782.6 941.3 L777.3 936.2 L775.6 937.9 L775.4 938.2 L774 939.9 L773.8 940.2 L772.7 941.9 L772.5 942.3 L771.6 944 L771.4 944.4 L770.8 946.1 L770.6 946.6 L770.2 948.3 L770.1 948.8 L770 950.5 L769.9 951 L770 952.7 L770.1 953.2 L770.3 954.8 L770.5 955.3 L771 956.9 L771.1 957.3 L771.9 958.9 L772.1 959.3 L773 960.8 L773.3 961.2 L774.4 962.7 L774.7 962.9 L776 964.4 L776.3 964.6 L777.9 965.9 L778.1 966.1 L779.7 967.3 L780.8 968.3 L781.5 969.2 L782 970.3 L782.3 971.6 L782.4 973.2 L782.2 974.9 L781.6 977 L780.8 979.2 L779.7 981.6 L778.2 984.2 L776.3 986.9 L774.2 989.7 L771.7 992.6 L768.8 995.5 L767.7 996.6 L752.1 921.5 L752 921.2 L751.9 920.8 L751.7 920.5 L751.6 920.2 L751.3 919.9 L751.1 919.6 L750.8 919.3 L750.5 919.1 L750.2 918.9 L749.8 918.8 L749.5 918.6 L749.1 918.5 L748.7 918.5 L748.3 918.5 L748 918.5 L747.6 918.6 L747.2 918.7 L746.9 918.8 L746.5 919 L746.2 919.2 L745.9 919.4 L745.7 919.7 L745.4 919.9 L745.2 920.2 L745 920.6 L744.8 920.9 L744.7 921.3 L744.6 921.6 L744.6 922 L740.4 977.5 L730.2 923.9 L730.1 923.5 L729.9 923.2 L729.8 922.8 L729.6 922.5 L729.4 922.2 L729.1 921.9 L728.8 921.7 L728.5 921.5 L728.2 921.3 L727.9 921.1 L727.5 921 L727.2 920.9 L726.8 920.8 L726.4 920.8 L726 920.8 L725.7 920.9 L725.3 921 L724.9 921.1 L724.6 921.3 L724.3 921.5 L724 921.7 L723.7 922 L723.4 922.2 L723.2 922.5 L723 922.9 L722.9 923.2 L722.7 923.6 L722.7 923.9 L722.6 924.3 L718.6 971.6 L713.2 940.2 L713.1 939.8 L713 939.4 L712.8 939.1 L712.6 938.8 L712.4 938.5 L712.2 938.2 L711.9 937.9 L711.6 937.7 L711.3 937.5 L710.9 937.3 L710.6 937.2 L710.2 937.1 L709.9 937 L709.5 937 L709.1 937 L708.7 937 L708.4 937.1 L708 937.2 L707.7 937.4 L707.4 937.6 L707.1 937.8 L706.8 938 L706.5 938.3 L706.3 938.6 L706.1 938.9 L705.9 939.3 L705.8 939.6 L705.7 940 L705.6 940.3 L705.6 940.7 L705.6 941.1 L705.6 941.5 L716.2 1002 L716.3 1002.4 L716.4 1002.8Z" stroke-width="1.1" stroke-dasharray="7 3" stroke-linejoin="round"/>
<line x1="206.2" y1="853.5" x2="337.5" y2="853.5" stroke-width="1.5"/>
<line x1="337.5" y1="853.5" x2="1166" y2="1075.6" stroke-width="1.5"/>
<path d="M393.6 870.4 L363.1 868.3 L366 857.2Z" stroke-width="1.6" stroke-linejoin="miter"/>
<path d="M1099.4 1056.7 L1129.9 1058.8 L1127 1069.9Z" stroke-width="1.6" stroke-linejoin="miter"/>
<text x="262.8" y="846" textLength="50" lengthAdjust="spacingAndGlyphs" fill="#1a1a1a" stroke="#fff" stroke-width="0.5" font-size="33">162</text>
<circle cx="236.7" cy="834.4" r="11.2" stroke-width="1.7"/>
<line x1="229.2" y1="851.4" x2="244.2" y2="817.4" stroke-width="1.7"/>
<!-- s_side -->
<line x1="1317.3" y1="962.9" x2="1871.9" y2="962.8" stroke-width="1.3" stroke-dasharray="148 14 18 14 164 14 18 14 400"/>
<path d="M1337.8 690.7 Q1385.4 708.6 1393 756.2 L1393 1169.5 Q1385.4 1217 1337.8 1235 Z" stroke-width="3" stroke-linejoin="round"/>
<line x1="1393" y1="756.2" x2="1398.3" y2="756.2" stroke-width="2"/>
<line x1="1393" y1="1169.5" x2="1398.3" y2="1169.5" stroke-width="2"/>
<rect x="1346" y="935.2" width="9.5" height="56.1" stroke-width="1.8"/>
<line x1="1346" y1="944.5" x2="1355.6" y2="944.5" stroke-width="1.3"/>
<line x1="1346" y1="953.9" x2="1355.6" y2="953.9" stroke-width="1.3"/>
<line x1="1346" y1="963.3" x2="1355.6" y2="963.3" stroke-width="1.3"/>
<line x1="1346" y1="972.6" x2="1355.6" y2="972.6" stroke-width="1.3"/>
<line x1="1346" y1="982" x2="1355.6" y2="982" stroke-width="1.3"/>
<path d="M1399.4 597.6 L1416.8 598.6 L1421.3 601.8 L1569 629.5 L1584.5 632.9 Q1591.5 634.9 1592.2 645.4 L1593 662.8" stroke-width="3" stroke-linejoin="round"/>
<path d="M1399.4 597.6 L1399.5 1327.6 Q1489.3 1321 1565.8 1302.3 L1582.5 1297.9 Q1589.5 1295.4 1590.6 1284.4 L1592 1264" stroke-width="3" stroke-linejoin="round"/>
<line x1="1569" y1="629.5" x2="1565.8" y2="1302.3" stroke-width="3"/>
<line x1="1584.6" y1="633.4" x2="1583.5" y2="1297.4" stroke-width="1.5"/>
<line x1="1593" y1="662.8" x2="1592" y2="1264" stroke-width="2.2"/>
<line x1="1596.1" y1="664.4" x2="1595.3" y2="1262.4" stroke-width="1.4"/>
<path d="M1593 662.8 L1788.1 675.3 Q1816.7 678.2 1824.4 709.5 Q1845.3 829.5 1843.8 963.7 Q1845.3 1096.2 1824.4 1216.2 Q1816.7 1247.4 1788.1 1250.4 L1593 1262.9" stroke-width="3" stroke-linejoin="round"/>
<line x1="1788.1" y1="675.3" x2="1788.1" y2="1250.4" stroke-width="1.4"/>
<line x1="1825.9" y1="709.5" x2="1825.9" y2="1216.2" stroke-width="1.8"/>
<path d="M1597.3 692.1 L1660 692.4" stroke-width="1.3" stroke-dasharray="15 7"/>
<path d="M1597.3 1233.6 L1660 1233.3" stroke-width="1.3" stroke-dasharray="15 7"/>
<path d="M1660.5 692.7 L1660.5 1233" stroke-width="1.3" stroke-dasharray="15 7"/>
<path d="M1744 693 L1744 1232.7" stroke-width="1.3" stroke-dasharray="15 7"/>
<path d="M1744 693 L1788 692.5 Q1804.5 693.2 1808.7 714.6 Q1829.3 834.6 1828.3 963.7 Q1829.3 1091.1 1808.7 1211.1 Q1804.5 1232.5 1788 1233.2 L1744 1232.7" stroke-width="1.3" stroke-dasharray="15 7"/>
<path d="M1663.5 695.7 L1690.6 805.8 L1690.8 814.8 L1690.8 1110.9 L1690.6 1119.9 L1663.5 1230" stroke-width="1.3" stroke-dasharray="15 7"/>
<path d="M1740.5 696 L1712.6 805.8 L1709.8 814.8 L1709.8 1110.9 L1712.6 1119.8 L1740.5 1229.7" stroke-width="1.3" stroke-dasharray="15 7"/>
<line x1="1690.3" y1="821.8" x2="1710.3" y2="821.8" stroke-width="1.4"/>
<line x1="1690.3" y1="849.8" x2="1710.3" y2="849.8" stroke-width="1.4"/>
<line x1="1690.3" y1="914.8" x2="1710.3" y2="914.8" stroke-width="1.4"/>
<line x1="1690.3" y1="943.8" x2="1710.3" y2="943.8" stroke-width="1.4"/>
<line x1="1690.3" y1="989.8" x2="1710.3" y2="989.8" stroke-width="1.4"/>
<line x1="1690.3" y1="1019.8" x2="1710.3" y2="1019.8" stroke-width="1.4"/>
<line x1="1690.3" y1="1067.8" x2="1710.3" y2="1067.8" stroke-width="1.4"/>
<line x1="1690.3" y1="1094.8" x2="1710.3" y2="1094.8" stroke-width="1.4"/>
<rect x="1690.3" y="849.8" width="20" height="18" stroke-width="1.4"/>
<rect x="1690.3" y="914.8" width="20" height="12" stroke-width="1.4"/>
<rect x="1690.3" y="989.8" width="20" height="12" stroke-width="1.4"/>
<rect x="1690.3" y="1067.8" width="20" height="12" stroke-width="1.4"/>
<rect x="1690.3" y="1094.8" width="20" height="10" stroke-width="1.4"/>
<line x1="1700.3" y1="717.8" x2="1700.3" y2="811.8" stroke-width="1.2"/>
<line x1="1700.3" y1="829.8" x2="1700.3" y2="904.8" stroke-width="1.2"/>
<line x1="1700.3" y1="934.8" x2="1700.3" y2="1059.8" stroke-width="1.2"/>
<line x1="1700.3" y1="1084.8" x2="1700.3" y2="1214.8" stroke-width="1.2"/>
<path d="M1457.3 1078.6 L1567.3 1089.3 Q1589.3 1090.4 1589.7 1099.4 L1589.2 1159.4 Q1588.6 1167.4 1566.6 1171.3 L1456.3 1200.4 Q1424.4 1197.8 1419.6 1163.8 Q1417 1138.8 1420.1 1110.8 Q1426.3 1079.8 1457.3 1078.6 Z" stroke-width="2" stroke-linejoin="round"/>
<g transform="translate(1503.8 1139.1) scale(0.955 0.95) translate(-1503.8 -1139.1)">
<path d="M1457.3 1078.6 L1567.3 1089.3 Q1589.3 1090.4 1589.7 1099.4 L1589.2 1159.4 Q1588.6 1167.4 1566.6 1171.3 L1456.3 1200.4 Q1424.4 1197.8 1419.6 1163.8 Q1417 1138.8 1420.1 1110.8 Q1426.3 1079.8 1457.3 1078.6 Z" stroke-width="1.3" stroke-linejoin="round"/>
</g>
<line x1="1457.3" y1="1078.9" x2="1457.3" y2="1199.9" stroke-width="1.3"/>
<path d="M1425 1119.8 Q1437.1 1108.8 1450 1120.9 Q1459 1125.9 1473.5 1125 Q1452.9 1128.9 1440.8 1141.8 L1423.7 1156.8" stroke-width="1.8" stroke-linejoin="round"/>
<line x1="1423" y1="1119.8" x2="1423.7" y2="1156.8" stroke-width="1.5"/>
<line x1="1339.6" y1="471.2" x2="1339.6" y2="690.7" stroke-width="1.3"/>
<line x1="1844.8" y1="463.8" x2="1844.8" y2="930.3" stroke-width="1.3"/>
<line x1="1399.9" y1="536.7" x2="1399.9" y2="597.6" stroke-width="1.3"/>
<line x1="1339.7" y1="482.4" x2="1844.8" y2="482.1" stroke-width="1.4"/>
<path d="M1339.7 482.4 L1369.7 476.6 L1369.7 488.1Z" stroke-width="1.6" stroke-linejoin="miter"/>
<path d="M1844.8 482.1 L1814.8 487.9 L1814.8 476.4Z" stroke-width="1.6" stroke-linejoin="miter"/>
<line x1="1400" y1="547.9" x2="1844.8" y2="548" stroke-width="1.4"/>
<path d="M1400 547.9 L1430 542.1 L1430 553.6Z" stroke-width="1.6" stroke-linejoin="miter"/>
<path d="M1844.8 548 L1814.8 553.8 L1814.8 542.3Z" stroke-width="1.6" stroke-linejoin="miter"/>
<text x="1574.9" y="474.6" text-anchor="middle" textLength="52" lengthAdjust="spacingAndGlyphs" fill="#1a1a1a" stroke="#fff" stroke-width="0.5" font-size="32.5">112</text>
<text x="1597.8" y="540" text-anchor="middle" textLength="36" lengthAdjust="spacingAndGlyphs" fill="#1a1a1a" stroke="#fff" stroke-width="0.5" font-size="32.5">99</text>
<!-- s_back -->
<circle cx="2618.9" cy="963.4" r="365" stroke-width="3.2"/>
<circle cx="2618.9" cy="963.4" r="357.5" stroke-width="2.2"/>
<circle cx="2618.9" cy="963.4" r="353.6" stroke-width="1.2"/>
<circle cx="2618.9" cy="963.4" r="347" stroke-width="1.2" stroke-dasharray="150 22 60 14"/>
<circle cx="2618.9" cy="963.4" r="330.6" stroke-width="2.4"/>
<circle cx="2618.9" cy="963.4" r="324.4" stroke-width="2.4"/>
<circle cx="2618.9" cy="963.4" r="307.4" stroke-width="1.3"/>
<line x1="2532.7" y1="698.1" x2="2512" y2="634.3" stroke-width="6.5" stroke-linecap="butt"/>
<line x1="2705.1" y1="698.1" x2="2725.8" y2="634.3" stroke-width="6.5" stroke-linecap="butt"/>
<line x1="2392.6" y1="800.2" x2="2338.3" y2="761" stroke-width="6.5" stroke-linecap="butt"/>
<line x1="2842.3" y1="796.3" x2="2896" y2="756.1" stroke-width="6.5" stroke-linecap="butt"/>
<line x1="2339.9" y1="963.4" x2="2272.9" y2="963.4" stroke-width="6.5" stroke-linecap="butt"/>
<line x1="2705.1" y1="1228.7" x2="2725.8" y2="1292.5" stroke-width="6.5" stroke-linecap="butt"/>
<line x1="2532.7" y1="1228.7" x2="2512" y2="1292.5" stroke-width="6.5" stroke-linecap="butt"/>
<line x1="2398.5" y1="1180" x2="2372.8" y2="1205.2" stroke-width="6.5"/>
<line x1="2839.3" y1="1180" x2="2865" y2="1205.2" stroke-width="6.5"/>
<rect x="2586.4" y="1321.4" width="13" height="9" rx="3" stroke-width="1.6"/>
<rect x="2603.4" y="1321.4" width="13" height="9" rx="3" stroke-width="1.6"/>
<rect x="2620.4" y="1321.4" width="13" height="9" rx="3" stroke-width="1.6"/>
<rect x="2637.4" y="1321.4" width="13" height="9" rx="3" stroke-width="1.6"/>
<path d="M2662.6 693.9 A273 273 0 1 1 2575.3 693.9 C2588.9 684.4 2592.9 671.4 2618.9 671.4 C2644.9 671.4 2648.9 684.4 2662.6 693.9" stroke-width="4.6"/>
<path d="M2585.9 688.9 Q2618.9 665.4 2651.9 688.9" stroke-width="3.2"/>
<circle cx="2618.9" cy="963.4" r="267.6" stroke-width="2.2"/>
<circle cx="2618.9" cy="963.4" r="190.4" stroke-width="1.3"/>
<circle cx="2618.9" cy="963.4" r="186" stroke-width="2.2"/>
<circle cx="2618.9" cy="963.4" r="181.6" stroke-width="4"/>
<circle cx="2618.9" cy="963.4" r="91" stroke-width="3"/>
<circle cx="2618.9" cy="963.4" r="67.6" stroke-width="3.2"/>
<circle cx="2618.9" cy="963.4" r="60.6" stroke-width="1.8"/>
<circle cx="2618.9" cy="963.4" r="53.6" stroke-width="1.8"/>
<circle cx="2618.9" cy="963.4" r="46.4" stroke-width="1.8"/>
<circle cx="2618.9" cy="963.4" r="39.4" stroke-width="1.8"/>
<circle cx="2618.9" cy="963.4" r="32.8" stroke-width="3.2"/>
<path d="M2618.9 936.4 L2642.3 949.9 L2642.3 976.9 L2618.9 990.4 L2595.5 976.9 L2595.5 949.9Z" stroke-width="3" stroke-linejoin="round"/>
<circle cx="2618.9" cy="963.4" r="19" stroke-width="1.3"/>
<circle cx="2618.9" cy="963.4" r="16" stroke-width="1.6"/>
<circle cx="2618.9" cy="963.4" r="12.4" stroke-width="4.2"/>
<line x1="2618.9" y1="963.4" x2="2623.9" y2="972.1" stroke-width="1.1"/>
<line x1="2618.9" y1="963.4" x2="2620.6" y2="973.2" stroke-width="1.1"/>
<line x1="2618.9" y1="963.4" x2="2617.2" y2="973.2" stroke-width="1.1"/>
<line x1="2618.9" y1="963.4" x2="2613.9" y2="972.1" stroke-width="1.1"/>
<path d="M2890.5 936.4 L3004.2 941.7 Q3017.8 942.2 3017.8 955.7 L3017.8 971.7 Q3017.8 984.7 3003.8 985.2 L2890.1 989.4Z" stroke-width="3" fill="#fff" stroke-linejoin="round"/>
<path d="M2890.5 937.9 L2890.1 987.9" stroke-width="5" stroke="#fff"/>
<path d="M2885 935.4 A267.6 267.6 0 0 1 2885 991.4" stroke-width="2"/>
<path d="M2888.2 937 A270.6 270.6 0 0 1 2888.2 989.8" stroke-width="1.3"/>
<line x1="2919.3" y1="938.3" x2="2919.3" y2="988.3" stroke-width="1.3"/>
<line x1="2965" y1="940.5" x2="2964.8" y2="959.5" stroke-width="1.3"/>
<line x1="2965" y1="973.5" x2="2964.9" y2="986.5" stroke-width="1.3"/>
<circle cx="2412.6" cy="758.2" r="22.7" stroke-width="2.6" fill="#fff"/>
<circle cx="2412.6" cy="758.2" r="17.7" stroke-width="1.3"/>
<circle cx="2412.6" cy="758.2" r="11.2" stroke-width="6.4"/>
<circle cx="2412.6" cy="758.2" r="5.2" stroke-width="1.2"/>
<line x1="2403.6" y1="758.2" x2="2421.6" y2="758.2" stroke-width="1.2"/>
<line x1="2412.6" y1="749.2" x2="2412.6" y2="767.2" stroke-width="1.2"/>
<circle cx="2825.2" cy="758.2" r="22.7" stroke-width="2.6" fill="#fff"/>
<circle cx="2825.2" cy="758.2" r="17.7" stroke-width="1.3"/>
<circle cx="2825.2" cy="758.2" r="11.2" stroke-width="6.4"/>
<circle cx="2825.2" cy="758.2" r="5.2" stroke-width="1.2"/>
<line x1="2816.2" y1="758.2" x2="2834.2" y2="758.2" stroke-width="1.2"/>
<line x1="2825.2" y1="749.2" x2="2825.2" y2="767.2" stroke-width="1.2"/>
<circle cx="2412.6" cy="1168.6" r="22.7" stroke-width="2.6" fill="#fff"/>
<circle cx="2412.6" cy="1168.6" r="17.7" stroke-width="1.3"/>
<circle cx="2412.6" cy="1168.6" r="11.2" stroke-width="6.4"/>
<circle cx="2412.6" cy="1168.6" r="5.2" stroke-width="1.2"/>
<line x1="2403.6" y1="1168.6" x2="2421.6" y2="1168.6" stroke-width="1.2"/>
<line x1="2412.6" y1="1159.6" x2="2412.6" y2="1177.6" stroke-width="1.2"/>
<circle cx="2825.2" cy="1168.6" r="22.7" stroke-width="2.6" fill="#fff"/>
<circle cx="2825.2" cy="1168.6" r="17.7" stroke-width="1.3"/>
<circle cx="2825.2" cy="1168.6" r="11.2" stroke-width="6.4"/>
<circle cx="2825.2" cy="1168.6" r="5.2" stroke-width="1.2"/>
<line x1="2816.2" y1="1168.6" x2="2834.2" y2="1168.6" stroke-width="1.2"/>
<line x1="2825.2" y1="1159.6" x2="2825.2" y2="1177.6" stroke-width="1.2"/>
<g transform="translate(2907.1 1057) rotate(-72)">
<path d="M-24 -31 V0 A24 24 0 0 0 24 0 V-31" stroke-width="6" fill="#fff"/>
<path d="M-18.5 -29 V0 A18.5 18.5 0 0 0 18.5 0 V-29" stroke-width="2.6"/>
<circle cx="0" cy="0" r="12.2" stroke-width="3.4"/>
<path d="M-8 0 L-2.2 -2.2 L0 -8 L2.2 -2.2 L8 0 L2.2 2.2 L0 8 L-2.2 2.2 Z" stroke-width="2.4" fill="#fff"/>
<line x1="-8.5" y1="0" x2="8.5" y2="0" stroke-width="2.2"/>
<line x1="0" y1="-8.5" x2="0" y2="8.5" stroke-width="2.2"/>
</g>
<g transform="translate(2618.9 1266.4) rotate(0)">
<path d="M-24 -31 V0 A24 24 0 0 0 24 0 V-31" stroke-width="6" fill="#fff"/>
<path d="M-18.5 -29 V0 A18.5 18.5 0 0 0 18.5 0 V-29" stroke-width="2.6"/>
<circle cx="0" cy="0" r="12.2" stroke-width="3.4"/>
<path d="M-8 0 L-2.2 -2.2 L0 -8 L2.2 -2.2 L8 0 L2.2 2.2 L0 8 L-2.2 2.2 Z" stroke-width="2.4" fill="#fff"/>
<line x1="-8.5" y1="0" x2="8.5" y2="0" stroke-width="2.2"/>
<line x1="0" y1="-8.5" x2="0" y2="8.5" stroke-width="2.2"/>
</g>
<g transform="translate(2330.7 1057) rotate(72)">
<path d="M-24 -31 V0 A24 24 0 0 0 24 0 V-31" stroke-width="6" fill="#fff"/>
<path d="M-18.5 -29 V0 A18.5 18.5 0 0 0 18.5 0 V-29" stroke-width="2.6"/>
<circle cx="0" cy="0" r="12.2" stroke-width="3.4"/>
<path d="M-8 0 L-2.2 -2.2 L0 -8 L2.2 -2.2 L8 0 L2.2 2.2 L0 8 L-2.2 2.2 Z" stroke-width="2.4" fill="#fff"/>
<line x1="-8.5" y1="0" x2="8.5" y2="0" stroke-width="2.2"/>
<line x1="0" y1="-8.5" x2="0" y2="8.5" stroke-width="2.2"/>
</g>
<g transform="translate(2797 718.3) rotate(216)">
<path d="M-24 -31 V0 A24 24 0 0 0 24 0 V-31" stroke-width="6" fill="#fff"/>
<path d="M-18.5 -29 V0 A18.5 18.5 0 0 0 18.5 0 V-29" stroke-width="2.6"/>
<circle cx="0" cy="0" r="12.2" stroke-width="3.4"/>
<path d="M-8 0 L-2.2 -2.2 L0 -8 L2.2 -2.2 L8 0 L2.2 2.2 L0 8 L-2.2 2.2 Z" stroke-width="2.4" fill="#fff"/>
<line x1="-8.5" y1="0" x2="8.5" y2="0" stroke-width="2.2"/>
<line x1="0" y1="-8.5" x2="0" y2="8.5" stroke-width="2.2"/>
</g>
<g transform="translate(2439.8 719.6) rotate(155.7)">
<path d="M-19 -36 V0 A19 19 0 0 0 19 0 V-30" stroke-width="5" fill="#fff"/>
<path d="M-24.5 -30 V0 A24.5 24.5 0 0 0 24.5 0" stroke-width="1.6"/>
<circle cx="0" cy="0" r="6.5" stroke-width="2.4"/>
<path d="M-3 0 L0 -3 L3 0 L0 3 Z" stroke-width="1.2"/>
</g>
<g transform="translate(2618.9 963.4) rotate(0)">
<path d="M-71.1 -341.7 A349 349 0 0 1 71.1 -341.7 A100 100 0 0 1 -71.1 -341.7 Z" stroke-width="3.4" fill="#fff" stroke-linejoin="round"/>
<path d="M-25 -347 V-361 H25 V-347 Z" fill="#fff" stroke="none"/>
<path d="M-31 -347 A31 31 0 0 0 31 -347" stroke-width="3.4"/>
<path d="M-24.6 -347 A24.6 24.6 0 0 0 24.6 -347" stroke-width="1.6"/>
<path d="M-21 -347 A21 21 0 0 0 21 -347" stroke-width="1.6"/>
<path d="M-17 -347 A17 17 0 0 0 17 -347" stroke-width="2.2"/>
<path d="M-24.6 -347 V-353 Q-24.6 -358 -30 -358 M24.6 -347 V-353 Q24.6 -358 30 -358" stroke-width="1.6"/>
<path d="M-17 -347 V-352 Q-17 -357.5 -23 -357.5 M17 -347 V-352 Q17 -357.5 23 -357.5" stroke-width="1.6"/>
<circle cx="0" cy="-347" r="10" stroke-width="3.4"/>
<line x1="-40" y1="-347" x2="40" y2="-347" stroke-width="1.2"/>
</g>
<g transform="translate(2618.9 963.4) rotate(240)">
<path d="M-71.1 -341.7 A349 349 0 0 1 71.1 -341.7 A100 100 0 0 1 -71.1 -341.7 Z" stroke-width="3.4" fill="#fff" stroke-linejoin="round"/>
<path d="M-25 -347 V-361 H25 V-347 Z" fill="#fff" stroke="none"/>
<path d="M-31 -347 A31 31 0 0 0 31 -347" stroke-width="3.4"/>
<path d="M-24.6 -347 A24.6 24.6 0 0 0 24.6 -347" stroke-width="1.6"/>
<path d="M-21 -347 A21 21 0 0 0 21 -347" stroke-width="1.6"/>
<path d="M-17 -347 A17 17 0 0 0 17 -347" stroke-width="2.2"/>
<path d="M-24.6 -347 V-353 Q-24.6 -358 -30 -358 M24.6 -347 V-353 Q24.6 -358 30 -358" stroke-width="1.6"/>
<path d="M-17 -347 V-352 Q-17 -357.5 -23 -357.5 M17 -347 V-352 Q17 -357.5 23 -357.5" stroke-width="1.6"/>
<circle cx="0" cy="-347" r="10" stroke-width="3.4"/>
<line x1="-40" y1="-347" x2="40" y2="-347" stroke-width="1.2"/>
</g>
<g transform="translate(2618.9 963.4) rotate(120)">
<path d="M-71.1 -341.7 A349 349 0 0 1 71.1 -341.7 A100 100 0 0 1 -71.1 -341.7 Z" stroke-width="3.4" fill="#fff" stroke-linejoin="round"/>
<path d="M-25 -347 V-361 H25 V-347 Z" fill="#fff" stroke="none"/>
<path d="M-31 -347 A31 31 0 0 0 31 -347" stroke-width="3.4"/>
<path d="M-24.6 -347 A24.6 24.6 0 0 0 24.6 -347" stroke-width="1.6"/>
<path d="M-21 -347 A21 21 0 0 0 21 -347" stroke-width="1.6"/>
<path d="M-17 -347 A17 17 0 0 0 17 -347" stroke-width="2.2"/>
<path d="M-24.6 -347 V-353 Q-24.6 -358 -30 -358 M24.6 -347 V-353 Q24.6 -358 30 -358" stroke-width="1.6"/>
<path d="M-17 -347 V-352 Q-17 -357.5 -23 -357.5 M17 -347 V-352 Q17 -357.5 23 -357.5" stroke-width="1.6"/>
<circle cx="0" cy="-347" r="10" stroke-width="3.4"/>
<line x1="-40" y1="-347" x2="40" y2="-347" stroke-width="1.2"/>
</g>
<line x1="2618.9" y1="290.6" x2="2618.9" y2="868.4" stroke-width="1.3"/>
<line x1="2618.9" y1="868.4" x2="2618.9" y2="1163.4" stroke-width="1.3"/>
<line x1="2618.9" y1="1171.4" x2="2618.9" y2="1358.4" stroke-width="1.3" stroke-dasharray="150 10 20 10"/>
<line x1="2142.3" y1="963.1" x2="2412.3" y2="963.2" stroke-width="1.3"/>
<line x1="2427.3" y1="963.3" x2="2787.3" y2="963.3" stroke-width="1.3"/>
<line x1="2797.3" y1="963.4" x2="2814.3" y2="963.3" stroke-width="1.3"/>
<line x1="2824.3" y1="963.4" x2="3115.3" y2="963.3" stroke-width="1.3"/>
<line x1="2618.9" y1="963.4" x2="2040.4" y2="1297.4" stroke-width="1.3"/>
<line x1="2618.9" y1="963.4" x2="3197.4" y2="1297.4" stroke-width="1.3"/>
<!-- s_holes -->
<line x1="2137" y1="1503.2" x2="2137" y2="2294.2" stroke-width="1.3"/>
<line x1="1760.1" y1="1946.2" x2="2483.7" y2="1946.2" stroke-width="1.3" stroke-dasharray="165 12 26 12"/>
<line x1="2137" y1="1946.2" x2="1754.3" y2="2167.2" stroke-width="1.3"/>
<line x1="2137" y1="1946.2" x2="2519.8" y2="2167.2" stroke-width="1.3"/>
<path d="M2161.2 1600.6 A346.5 346.5 0 0 1 2173.3 2290.8" stroke-width="1.4"/>
<path d="M2158.2 2292.1 A346.5 346.5 0 0 1 2146.1 2292.6" stroke-width="1.4"/>
<path d="M2134 2292.7 A346.5 346.5 0 0 1 2060.9 2284.2" stroke-width="1.4"/>
<path d="M1993.4 1630.9 A346.5 346.5 0 0 1 2112.9 1600.6" stroke-width="1.4"/>
<path d="M1831.1 2108.9 A346.5 346.5 0 0 1 1804 2041.7" stroke-width="1.4"/>
<path d="M1889.5 2188.7 A346.5 346.5 0 0 1 1843.2 2129.8" stroke-width="1.3" stroke-dasharray="30 16"/>
<path d="M1758.6 2164.7 A437 437 0 0 1 1858.5 1609.5" stroke-width="1.4"/>
<path d="M1931.9 1560.4 A437 437 0 0 1 2407.9 1603.3" stroke-width="1.4"/>
<path d="M2459.8 1651.5 A437 437 0 0 1 2515.5 2164.7" stroke-width="1.4"/>
<path d="M2137 1509.2 L2115 1513 L2115 1505.5Z" stroke-width="1.5" stroke-linejoin="miter"/>
<path d="M2137 1509.2 L2159 1505.5 L2159 1513Z" stroke-width="1.5" stroke-linejoin="miter"/>
<path d="M1758.6 2164.7 L1743.8 2148 L1750.1 2144.1Z" stroke-width="1.5" stroke-linejoin="miter"/>
<path d="M2515.5 2164.7 L2524 2144.1 L2530.3 2148Z" stroke-width="1.5" stroke-linejoin="miter"/>
<path d="M1848 1569.3 Q1837 1589.3 1848 1609.3" stroke-width="1.6"/>
<path d="M1936.8 1569.3 Q1947.8 1589.3 1936.8 1609.3" stroke-width="1.6"/>
<text x="1892.4" y="1600.3" text-anchor="middle" textLength="67.8" lengthAdjust="spacingAndGlyphs" fill="#1a1a1a" stroke="#fff" stroke-width="0.5" font-size="33.5">120°</text>
<path d="M2392.6 1614.5 Q2381.6 1634.5 2392.6 1654.5" stroke-width="1.6"/>
<path d="M2484.2 1614.5 Q2495.2 1634.5 2484.2 1654.5" stroke-width="1.6"/>
<text x="2438.4" y="1645.5" text-anchor="middle" textLength="70.6" lengthAdjust="spacingAndGlyphs" fill="#1a1a1a" stroke="#fff" stroke-width="0.5" font-size="33.5">120°</text>
<circle cx="2137" cy="1599.7" r="12.3" stroke-width="3.4"/>
<circle cx="1837" cy="2119.5" r="12.3" stroke-width="3.4"/>
<circle cx="2437.1" cy="2119.5" r="12.3" stroke-width="3.4"/>
<circle cx="1930.5" cy="1739.7" r="12.3" stroke-width="3.4"/>
<line x1="1911.2" y1="1739.7" x2="1949.8" y2="1739.7" stroke-width="1.3"/>
<line x1="1930.5" y1="1720.4" x2="1930.5" y2="1759" stroke-width="1.3"/>
<circle cx="2343.5" cy="1739.7" r="12.3" stroke-width="3.4"/>
<line x1="2324.2" y1="1739.7" x2="2362.8" y2="1739.7" stroke-width="1.3"/>
<line x1="2343.5" y1="1720.4" x2="2343.5" y2="1759" stroke-width="1.3"/>
<circle cx="1930.5" cy="2152.7" r="12.3" stroke-width="3.4"/>
<line x1="1911.2" y1="2152.7" x2="1949.8" y2="2152.7" stroke-width="1.3"/>
<line x1="1930.5" y1="2133.4" x2="1930.5" y2="2172" stroke-width="1.3"/>
<circle cx="2343.5" cy="2152.7" r="12.3" stroke-width="3.4"/>
<line x1="2324.2" y1="2152.7" x2="2362.8" y2="2152.7" stroke-width="1.3"/>
<line x1="2343.5" y1="2133.4" x2="2343.5" y2="2172" stroke-width="1.3"/>
<line x1="2002" y1="1627.1" x2="2272.1" y2="2265.3" stroke-width="1.4"/>
<path d="M2002 1627.1 L2014.1 1645.9 L2007.2 1648.8Z" stroke-width="1.5" stroke-linejoin="miter"/>
<path d="M2272.1 2265.3 L2260 2246.5 L2266.9 2243.6Z" stroke-width="1.5" stroke-linejoin="miter"/>
<rect x="1979.5" y="1744.4" width="163" height="46" fill="#fff" stroke="none"/>
<path d="M1990.5 1749.5 Q1979.5 1769.5 1990.5 1789.5" stroke-width="1.6"/>
<path d="M2133.5 1749.5 Q2144.5 1769.5 2133.5 1789.5" stroke-width="1.6"/>
<circle cx="2018.2" cy="1769.7" r="11.2" stroke-width="1.7"/>
<line x1="2010.7" y1="1786.7" x2="2025.7" y2="1752.7" stroke-width="1.7"/>
<text x="2043" y="1780.5" textLength="81" lengthAdjust="spacingAndGlyphs" fill="#1a1a1a" stroke="#fff" stroke-width="0.5" font-size="33.5">153.4</text>
<line x1="2160.4" y1="1572.5" x2="2310" y2="1572.5" stroke-width="1.5"/>
<line x1="2160.4" y1="1572.5" x2="2060.8" y2="1705.8" stroke-width="1.4"/>
<path d="M2144.3 1589.8 L2154.4 1569.9 L2160.4 1574.3Z" stroke-width="1.5" stroke-linejoin="miter"/>
<path d="M2129.8 1609.6 L2119.7 1629.6 L2113.7 1625.1Z" stroke-width="1.5" stroke-linejoin="miter"/>
<text x="2221.3" y="1566.3" textLength="77" lengthAdjust="spacingAndGlyphs" fill="#1a1a1a" stroke="#fff" stroke-width="0.5" font-size="34">5(3x)</text>
<circle cx="2198.3" cy="1554.5" r="11.2" stroke-width="1.7"/>
<line x1="2190.8" y1="1571.5" x2="2205.8" y2="1537.5" stroke-width="1.7"/>
<line x1="2136.7" y1="1700" x2="2316.4" y2="1700" stroke-width="1.5"/>
<line x1="2316.4" y1="1700" x2="2424.8" y2="1846.9" stroke-width="1.4"/>
<path d="M2336.2 1729.9 L2320 1714.5 L2326 1710Z" stroke-width="1.5" stroke-linejoin="miter"/>
<path d="M2350.9 1749.6 L2367.1 1764.9 L2361.1 1769.4Z" stroke-width="1.5" stroke-linejoin="miter"/>
<text x="2183.3" y="1692.4" textLength="106" lengthAdjust="spacingAndGlyphs" fill="#1a1a1a" stroke="#fff" stroke-width="0.5" font-size="34">5.5(4x)</text>
<circle cx="2163.2" cy="1678.6" r="11.2" stroke-width="1.7"/>
<line x1="2155.7" y1="1695.6" x2="2170.7" y2="1661.6" stroke-width="1.7"/>
<line x1="1780.9" y1="1599.7" x2="1780.9" y2="2119.5" stroke-width="1.4"/>
<path d="M1780.9 1599.7 L1784.6 1621.7 L1777.1 1621.7Z" stroke-width="1.5" stroke-linejoin="miter"/>
<path d="M1780.9 1946.2 L1777.1 1924.2 L1784.6 1924.2Z" stroke-width="1.5" stroke-linejoin="miter"/>
<path d="M1780.9 1946.2 L1784.6 1968.2 L1777.1 1968.2Z" stroke-width="1.5" stroke-linejoin="miter"/>
<path d="M1780.9 2119.5 L1777.1 2097.5 L1784.6 2097.5Z" stroke-width="1.5" stroke-linejoin="miter"/>
<line x1="1770.9" y1="1599.7" x2="2123" y2="1599.7" stroke-width="1.3"/>
<line x1="1772.9" y1="2119.5" x2="1823" y2="2119.5" stroke-width="1.3"/>
<text transform="translate(1774.7 1763.3) rotate(-90)" text-anchor="middle" font-size="34" textLength="64" lengthAdjust="spacingAndGlyphs" fill="#1a1a1a" stroke="#fff" stroke-width="0.5">76.7</text>
<text transform="translate(1769.5 2028) rotate(-90)" text-anchor="middle" font-size="34" textLength="64" lengthAdjust="spacingAndGlyphs" fill="#1a1a1a" stroke="#fff" stroke-width="0.5">38.4</text>
<line x1="2399.1" y1="1739.7" x2="2399.1" y2="2152.7" stroke-width="1.4"/>
<path d="M2399.1 1739.7 L2402.9 1761.7 L2395.4 1761.7Z" stroke-width="1.5" stroke-linejoin="miter"/>
<path d="M2399.1 1946.2 L2395.4 1924.2 L2402.9 1924.2Z" stroke-width="1.5" stroke-linejoin="miter"/>
<path d="M2399.1 1946.2 L2402.9 1968.2 L2395.4 1968.2Z" stroke-width="1.5" stroke-linejoin="miter"/>
<path d="M2399.1 2152.7 L2395.4 2130.7 L2402.9 2130.7Z" stroke-width="1.5" stroke-linejoin="miter"/>
<line x1="2357.5" y1="1739.7" x2="2409.1" y2="1739.7" stroke-width="1.3"/>
<line x1="2357.5" y1="2152.7" x2="2409.1" y2="2152.7" stroke-width="1.3"/>
<text transform="translate(2388.5 1844.3) rotate(-90)" text-anchor="middle" font-size="34" textLength="66" lengthAdjust="spacingAndGlyphs" fill="#1a1a1a" stroke="#fff" stroke-width="0.5">45.6</text>
<text transform="translate(2386.9 2038.2) rotate(-90)" text-anchor="middle" font-size="34" textLength="66" lengthAdjust="spacingAndGlyphs" fill="#1a1a1a" stroke="#fff" stroke-width="0.5">45.6</text>
<line x1="1930.5" y1="2078.5" x2="2343.5" y2="2078.5" stroke-width="1.4"/>
<path d="M1930.5 2078.5 L1952.5 2074.8 L1952.5 2082.3Z" stroke-width="1.5" stroke-linejoin="miter"/>
<path d="M2137 2078.5 L2115 2082.3 L2115 2074.8Z" stroke-width="1.5" stroke-linejoin="miter"/>
<path d="M2137 2078.5 L2159 2074.8 L2159 2082.3Z" stroke-width="1.5" stroke-linejoin="miter"/>
<path d="M2343.5 2078.5 L2321.5 2082.3 L2321.5 2074.8Z" stroke-width="1.5" stroke-linejoin="miter"/>
<line x1="1930.5" y1="2068.5" x2="1930.5" y2="2138.7" stroke-width="1.3"/>
<line x1="2343.5" y1="2068.5" x2="2343.5" y2="2138.7" stroke-width="1.3"/>
<text x="2035.1" y="2070.5" text-anchor="middle" textLength="66" lengthAdjust="spacingAndGlyphs" fill="#1a1a1a" stroke="#fff" stroke-width="0.5" font-size="34">45.6</text>
<text x="2249.9" y="2070.1" text-anchor="middle" textLength="66" lengthAdjust="spacingAndGlyphs" fill="#1a1a1a" stroke="#fff" stroke-width="0.5" font-size="34">45.6</text>
<line x1="1837" y1="2223.2" x2="2437.1" y2="2223.2" stroke-width="1.4"/>
<path d="M1837 2223.2 L1859 2219.5 L1859 2227Z" stroke-width="1.5" stroke-linejoin="miter"/>
<path d="M2137 2223.2 L2115 2227 L2115 2219.5Z" stroke-width="1.5" stroke-linejoin="miter"/>
<path d="M2137 2223.2 L2159 2219.5 L2159 2227Z" stroke-width="1.5" stroke-linejoin="miter"/>
<path d="M2437.1 2223.2 L2415.1 2227 L2415.1 2219.5Z" stroke-width="1.5" stroke-linejoin="miter"/>
<line x1="1837" y1="2133.5" x2="1837" y2="2233.2" stroke-width="1.3"/>
<line x1="2437.1" y1="2133.5" x2="2437.1" y2="2233.2" stroke-width="1.3"/>
<text x="1966.1" y="2215.3" text-anchor="middle" textLength="66" lengthAdjust="spacingAndGlyphs" fill="#1a1a1a" stroke="#fff" stroke-width="0.5" font-size="34">66.4</text>
<text x="2287.5" y="2216.5" text-anchor="middle" textLength="66" lengthAdjust="spacingAndGlyphs" fill="#1a1a1a" stroke="#fff" stroke-width="0.5" font-size="34">66.4</text>
<text x="2038.3" y="1441.1" textLength="708" lengthAdjust="spacingAndGlyphs" fill="#1a1a1a" stroke="#fff" stroke-width="0.5" font-size="27.5" xml:space="preserve">OTWORY W NADWOZIU DO MOCOWANIA - WARIANT 1</text>
<text x="2038.1" y="1470.1" textLength="609" lengthAdjust="spacingAndGlyphs" fill="#1a1a1a" stroke="#fff" stroke-width="0.5" font-size="27.5" xml:space="preserve">OPENINGS IN THE CARRIAGE TO FIX - VERSION 1</text>
<line x1="2038.1" y1="1475.4" x2="2748.1" y2="1475.4" stroke-width="1.5"/>
<line x1="2038.1" y1="1475.4" x2="2131.6" y2="1591.4" stroke-width="1.4"/>
<text x="1969.6" y="2324.2" textLength="707.4" lengthAdjust="spacingAndGlyphs" fill="#1a1a1a" stroke="#fff" stroke-width="0.5" font-size="27.5" xml:space="preserve">OTWORY W NADWOZIU DO MOCOWANIA - WARIANT 2</text>
<text x="1969.4" y="2354.8" textLength="608.4" lengthAdjust="spacingAndGlyphs" fill="#1a1a1a" stroke="#fff" stroke-width="0.5" font-size="27.5" xml:space="preserve">OPENINGS IN THE CARRIAGE TO FIX - VERSION 2</text>
<line x1="1963.1" y1="2362.6" x2="2678.7" y2="2362.6" stroke-width="1.5"/>
<line x1="1963.1" y1="2361.8" x2="1930.8" y2="2164.7" stroke-width="1.4"/>
<!-- s_detail -->
<circle cx="495.2" cy="1749.8" r="276.5" stroke-width="1.5"/>
<line x1="493.3" y1="1473.8" x2="493.3" y2="2025.8" stroke-width="1.3"/>
<line x1="223.5" y1="1801.3" x2="336.3" y2="1801.3" stroke-width="1.3"/>
<line x1="351.3" y1="1801.3" x2="375.3" y2="1801.3" stroke-width="1.3"/>
<line x1="383.3" y1="1801.3" x2="603.3" y2="1801.3" stroke-width="1.3"/>
<line x1="621.3" y1="1801.3" x2="643.3" y2="1801.3" stroke-width="1.3"/>
<line x1="653.3" y1="1801.3" x2="766.8" y2="1801.3" stroke-width="1.3"/>
<text transform="translate(356.7 1773.5) rotate(-78.5) scale(0.772 1)" text-anchor="middle" font-size="37.5" fill="none" stroke="#1a1a1a" stroke-width="1.1">W</text>
<text transform="translate(363.2 1751.1) rotate(-68.9) scale(0.772 1)" text-anchor="middle" font-size="37.5" fill="none" stroke="#1a1a1a" stroke-width="1.1">A</text>
<text transform="translate(371.4 1733.6) rotate(-61) scale(0.772 1)" text-anchor="middle" font-size="37.5" fill="none" stroke="#1a1a1a" stroke-width="1.1">Ś</text>
<text transform="translate(389.6 1708.1) rotate(-48.1) scale(0.772 1)" text-anchor="middle" font-size="37.5" fill="none" stroke="#1a1a1a" stroke-width="1.1">W</text>
<text transform="translate(405.3 1693.2) rotate(-39.2) scale(0.772 1)" text-anchor="middle" font-size="37.5" fill="none" stroke="#1a1a1a" stroke-width="1.1">1</text>
<text transform="translate(418.3 1683.7) rotate(-32.5) scale(0.772 1)" text-anchor="middle" font-size="37.5" fill="none" stroke="#1a1a1a" stroke-width="1.1">2</text>
<text transform="translate(432.4 1675.9) rotate(-25.9) scale(0.772 1)" text-anchor="middle" font-size="37.5" fill="none" stroke="#1a1a1a" stroke-width="1.1">6</text>
<text transform="translate(454.9 1667.2) rotate(-16) scale(0.772 1)" text-anchor="middle" font-size="37.5" fill="none" stroke="#1a1a1a" stroke-width="1.1">1</text>
<text transform="translate(470.6 1663.7) rotate(-9.4) scale(0.772 1)" text-anchor="middle" font-size="37.5" fill="none" stroke="#1a1a1a" stroke-width="1.1">2</text>
<text transform="translate(488.2 1661.9) rotate(-2.1) scale(0.772 1)" text-anchor="middle" font-size="37.5" fill="none" stroke="#1a1a1a" stroke-width="1.1">V</text>
<text transform="translate(501.9 1662.1) rotate(3.5) scale(0.772 1)" text-anchor="middle" font-size="37.5" fill="none" stroke="#1a1a1a" stroke-width="1.1">/</text>
<text transform="translate(513.9 1663.4) rotate(8.5) scale(0.772 1)" text-anchor="middle" font-size="37.5" fill="none" stroke="#1a1a1a" stroke-width="1.1">2</text>
<text transform="translate(529.7 1666.6) rotate(15.1) scale(0.772 1)" text-anchor="middle" font-size="37.5" fill="none" stroke="#1a1a1a" stroke-width="1.1">4</text>
<text transform="translate(546.4 1672.3) rotate(22.4) scale(0.772 1)" text-anchor="middle" font-size="37.5" fill="none" stroke="#1a1a1a" stroke-width="1.1">V</text>
<text transform="translate(572.6 1686.5) rotate(34.6) scale(0.772 1)" text-anchor="middle" font-size="37.5" fill="none" stroke="#1a1a1a" stroke-width="1.1">m</text>
<text transform="translate(588.2 1699.1) rotate(42.9) scale(0.772 1)" text-anchor="middle" font-size="37.5" fill="none" stroke="#1a1a1a" stroke-width="1.1">a</text>
<text transform="translate(598.9 1710.1) rotate(49.1) scale(0.772 1)" text-anchor="middle" font-size="37.5" fill="none" stroke="#1a1a1a" stroke-width="1.1">x</text>
<text transform="translate(605.9 1718.9) rotate(53.8) scale(0.772 1)" text-anchor="middle" font-size="37.5" fill="none" stroke="#1a1a1a" stroke-width="1.1">.</text>
<text transform="translate(616.6 1735.9) rotate(62) scale(0.772 1)" text-anchor="middle" font-size="37.5" fill="none" stroke="#1a1a1a" stroke-width="1.1">5</text>
<text transform="translate(621.8 1746.8) rotate(67) scale(0.772 1)" text-anchor="middle" font-size="37.5" fill="none" stroke="#1a1a1a" stroke-width="1.1">,</text>
<text transform="translate(626 1758.1) rotate(72) scale(0.772 1)" text-anchor="middle" font-size="37.5" fill="none" stroke="#1a1a1a" stroke-width="1.1">2</text>
<text transform="translate(631.1 1779.2) rotate(80.9) scale(0.772 1)" text-anchor="middle" font-size="37.5" fill="none" stroke="#1a1a1a" stroke-width="1.1">W</text>
<text transform="translate(273.7 1766.1) rotate(-80.9) scale(0.881 1)" text-anchor="middle" font-size="42" fill="none" stroke="#1a1a1a" stroke-width="1.1">T</text>
<text transform="translate(278.9 1742) rotate(-74.5) scale(0.881 1)" text-anchor="middle" font-size="42" fill="none" stroke="#1a1a1a" stroke-width="1.1">R</text>
<text transform="translate(286.4 1719.6) rotate(-68.4) scale(0.881 1)" text-anchor="middle" font-size="42" fill="none" stroke="#1a1a1a" stroke-width="1.1">1</text>
<text transform="translate(355.4 1626.8) rotate(-38.3) scale(1.056 1)" text-anchor="middle" font-size="42" fill="none" stroke="#1a1a1a" stroke-width="1.1">0</text>
<text transform="translate(375.5 1612.6) rotate(-32) scale(1.056 1)" text-anchor="middle" font-size="42" fill="none" stroke="#1a1a1a" stroke-width="1.1">0</text>
<circle cx="304.8" cy="1667.9" r="45.4" stroke-width="1.2" stroke-dasharray="12 4"/>
<circle cx="304.8" cy="1667.9" r="42.6" stroke-width="1.2" stroke-dasharray="12 4"/>
<g transform="translate(304.8 1667.9) rotate(-48.7)">
<text x="-16" y="15" text-anchor="middle" fill="none" stroke="#1a1a1a" stroke-width="1.1" font-size="44" stroke-dasharray="6 3">E</text>
<text x="14" y="2" text-anchor="middle" fill="none" stroke="#1a1a1a" stroke-width="1.1" font-size="27" stroke-dasharray="6 3">20</text>
</g>
<path d="M374.3 1575.2 L456 1544.2 L468.2 1576.4 L386.5 1608.6Z" stroke-width="1.2" stroke-dasharray="14 5"/>
<circle cx="573.3" cy="1579.4" r="33.5" stroke-width="1.3" stroke-dasharray="12 4"/>
<circle cx="573.3" cy="1579.4" r="31" stroke-width="1.3" stroke-dasharray="12 4"/>
<g transform="translate(573.3 1579.4) rotate(27.8)">
<text x="-13" y="11" text-anchor="middle" fill="none" stroke="#1a1a1a" stroke-width="1.1" font-size="33" stroke-dasharray="5 3">E</text>
<text x="11" y="12" text-anchor="middle" fill="none" stroke="#1a1a1a" stroke-width="0.8" font-size="22">20</text>
</g>
<text transform="translate(613.2 1614.5) rotate(32.7) scale(1.045 1)" text-anchor="middle" font-size="29" fill="none" stroke="#1a1a1a" stroke-width="1.1">1</text>
<text transform="translate(627 1624.1) rotate(37) scale(1.045 1)" text-anchor="middle" font-size="29" fill="none" stroke="#1a1a1a" stroke-width="1.1">0</text>
<text transform="translate(642 1636.4) rotate(42) scale(1.045 1)" text-anchor="middle" font-size="29" fill="none" stroke="#1a1a1a" stroke-width="1.1">R</text>
<text transform="translate(659.2 1653.7) rotate(48.3) scale(1.045 1)" text-anchor="middle" font-size="29" fill="none" stroke="#1a1a1a" stroke-width="1.1">-</text>
<text transform="translate(672.9 1670.8) rotate(54) scale(1.045 1)" text-anchor="middle" font-size="29" fill="none" stroke="#1a1a1a" stroke-width="1.1">0</text>
<text transform="translate(682.3 1684.8) rotate(58.3) scale(1.045 1)" text-anchor="middle" font-size="29" fill="none" stroke="#1a1a1a" stroke-width="1.1">4</text>
<path d="M688.9 1702 L715.7 1692.3 L738.9 1756.9 L712.1 1766.7Z" stroke-width="1.2" stroke-dasharray="14 5"/>
<circle cx="493.3" cy="1801.3" r="116.6" stroke-width="1.3" stroke-dasharray="16 6"/>
<path d="M563.4 1722.9 L549.5 1718.1 L540.3 1744.7 L554.2 1749.6 L563.4 1722.9ZM418.9 1898.1 L419.3 1899 L419.8 1899.8 L420.3 1900.6 L421 1901.3 L421.6 1901.9 L422.4 1902.5 L423.2 1903 L424 1903.4 L424.9 1903.7 L425.8 1904 L426.7 1904.1 L427.7 1904.1 L428.6 1904.1 L429.5 1904 L430.5 1903.7 L431.3 1903.4 L432.2 1903 L433 1902.5 L433.7 1902 L434.4 1901.4 L435.1 1900.7 L435.6 1899.9 L436.1 1899.1 L436.5 1898.2 L436.8 1897.4 L437 1896.4 L437.1 1895.5 L447.3 1774.4 L473 1908.8 L473.2 1909.7 L473.5 1910.6 L473.9 1911.4 L474.4 1912.2 L475 1913 L475.6 1913.7 L476.3 1914.3 L477 1914.9 L477.8 1915.3 L478.7 1915.7 L479.5 1916 L480.5 1916.3 L481.4 1916.4 L482.3 1916.4 L483.3 1916.4 L484.2 1916.2 L485.1 1916 L486 1915.7 L486.8 1915.3 L487.6 1914.8 L488.3 1914.2 L489 1913.6 L489.6 1912.9 L490.2 1912.1 L490.6 1911.3 L491 1910.5 L491.3 1909.6 L491.5 1908.7 L491.7 1907.7 L502.4 1766.8 L518.5 1844.5 L506.2 1844.5 L506.2 1856.8 L521 1856.8 L530.4 1902.2 L530.6 1903.1 L531 1903.9 L531.4 1904.8 L531.8 1905.6 L532.4 1906.3 L533 1907 L533.7 1907.6 L534.5 1908.1 L535.3 1908.6 L536.1 1909 L537 1909.3 L537.9 1909.5 L538.8 1909.6 L539.7 1909.7 L540.6 1909.6 L541.6 1909.5 L542.4 1909.3 L543.3 1908.9 L543.9 1908.7 L543.9 1908.7 L544.1 1908.6 L544.2 1908.5 L544.9 1908.1 L545.7 1907.5 L546.4 1906.9 L547 1906.2 L547.2 1905.8 L552.8 1901 L553 1900.8 L561.1 1893.1 L561.4 1892.8 L568.7 1885.2 L569 1884.9 L575.5 1877.4 L575.8 1877.1 L581.4 1869.7 L581.8 1869.3 L586.6 1862.2 L587 1861.6 L591 1854.7 L591.3 1854.1 L594.5 1847.4 L594.9 1846.6 L597.2 1840.2 L597.5 1839.3 L599 1833.2 L599.3 1832.1 L599.9 1826.4 L600 1825.7 L600 1825 L599.8 1819.7 L599.7 1818.9 L599.5 1818.1 L598.5 1813.2 L598.2 1812.3 L597.9 1811.5 L595.9 1807.1 L595.5 1806.2 L594.9 1805.4 L592.1 1801.5 L591.5 1800.8 L590.8 1800.1 L587 1796.8 L586.3 1796.2 L582.3 1793.3 L579 1790.4 L576.2 1787.6 L574 1784.7 L572.2 1781.8 L570.8 1778.9 L569.9 1776 L569.4 1773.1 L569.3 1770.2 L569.6 1767.2 L570.4 1764 L571.6 1760.8 L573.3 1757.4 L575.7 1753.8 L578.6 1750.2 L582.4 1746.2 L569.4 1733.7 L565.3 1738 L564.8 1738.6 L561.3 1742.8 L560.8 1743.6 L558 1747.9 L557.5 1748.7 L555.3 1753 L554.9 1753.9 L553.3 1758.2 L552.9 1759.3 L551.9 1763.6 L551.7 1764.8 L551.3 1769 L551.3 1770.2 L551.4 1774.4 L551.5 1775.6 L552.2 1779.7 L552.5 1780.9 L553.8 1784.9 L554.2 1785.9 L556 1789.8 L556.5 1790.8 L558.9 1794.6 L559.5 1795.4 L562.3 1799.1 L562.9 1799.8 L566.3 1803.3 L566.9 1803.8 L570.8 1807.2 L571.4 1807.6 L575.4 1810.6 L578.1 1813 L579.8 1815.3 L581.1 1818 L581.8 1821.2 L581.9 1825 L581.4 1829.4 L580.2 1834.4 L578.1 1840 L575.2 1845.9 L571.5 1852.3 L567 1858.9 L561.7 1865.8 L555.5 1872.9 L548.5 1880.2 L545.7 1882.9 L507.3 1697.5 L507 1696.6 L506.7 1695.7 L506.3 1694.9 L505.8 1694.1 L505.3 1693.3 L504.6 1692.7 L503.9 1692 L503.2 1691.5 L502.4 1691 L501.5 1690.6 L500.7 1690.3 L499.7 1690.1 L498.8 1690 L497.9 1690 L497 1690 L496 1690.2 L495.2 1690.4 L494.3 1690.8 L493.4 1691.2 L492.7 1691.7 L491.9 1692.2 L491.2 1692.9 L490.6 1693.6 L490.1 1694.3 L489.6 1695.1 L489.3 1696 L489 1696.9 L488.8 1697.8 L488.6 1698.7 L478.2 1835.6 L453 1703.4 L452.8 1702.5 L452.5 1701.6 L452.1 1700.7 L451.6 1699.9 L451 1699.2 L450.4 1698.5 L449.7 1697.9 L449 1697.3 L448.2 1696.8 L447.3 1696.4 L446.5 1696.1 L445.5 1695.9 L444.6 1695.8 L443.7 1695.7 L442.8 1695.8 L441.8 1695.9 L440.9 1696.1 L440.1 1696.4 L439.2 1696.9 L438.4 1697.3 L437.7 1697.9 L437 1698.5 L436.4 1699.2 L435.8 1700 L435.4 1700.8 L435 1701.6 L434.7 1702.5 L434.5 1703.4 L434.3 1704.3 L424.5 1821 L411 1743.5 L410.8 1742.6 L410.5 1741.7 L410.1 1740.9 L409.7 1740.1 L409.1 1739.3 L408.5 1738.6 L407.9 1738 L407.1 1737.4 L406.3 1736.9 L405.5 1736.5 L404.7 1736.2 L403.8 1735.9 L402.9 1735.7 L401.9 1735.7 L401 1735.7 L400.1 1735.8 L399.2 1736 L398.3 1736.3 L397.5 1736.7 L396.7 1737.1 L395.9 1737.7 L395.2 1738.3 L394.6 1738.9 L394 1739.7 L393.5 1740.5 L393.1 1741.3 L392.8 1742.2 L392.5 1743 L392.3 1744 L392.3 1744.9 L392.3 1745.8 L392.4 1746.7 L418.4 1896.3 L418.7 1897.3 L418.9 1898.1Z" stroke-width="1.2" stroke-dasharray="14 5" stroke-linejoin="round"/>
<line x1="712.5" y1="1050.4" x2="576.4" y2="1481.8" stroke-width="1.5"/>
<!-- s_stamp -->
<circle cx="2701.6" cy="1740.7" r="209" stroke-width="2.6" stroke-dasharray="3 2 1.5 2.5 5 2" stroke="#777"/>
<circle cx="2701.6" cy="1740.7" r="207" stroke-width="1.4" stroke-dasharray="2 3" stroke="#999"/>
<circle cx="2701.6" cy="1740.7" r="211.5" stroke-width="1.2" stroke-dasharray="1.5 4" stroke="#aaa"/>
<circle cx="2701.6" cy="1740.7" r="145.6" stroke-width="2.2" stroke-dasharray="3 2.5 1.5 2 4 3" stroke="#808080"/>
<circle cx="2701.6" cy="1740.7" r="147.5" stroke-width="1.2" stroke-dasharray="1.5 4" stroke="#aaa"/>
<path d="M2836.6 1686.2 A145.6 145.6 0 0 1 2845.7 1761" stroke-width="3.5" stroke-dasharray="9 3 5 4" stroke="#333"/>
<text transform="translate(2574.7 1655.2) rotate(-56) scale(0.780 1)" text-anchor="middle" font-size="50" fill="none" stroke="#707070" stroke-width="1.5" stroke-dasharray="5 2 2 1.5" opacity="1.0">T</text>
<text transform="translate(2590.9 1635) rotate(-46.3) scale(0.780 1)" text-anchor="middle" font-size="50" fill="none" stroke="#707070" stroke-width="1.5" stroke-dasharray="5 2 2 1.5" opacity="1.0">R</text>
<text transform="translate(2611.3 1617.2) rotate(-36.2) scale(0.780 1)" text-anchor="middle" font-size="50" fill="none" stroke="#707070" stroke-width="1.5" stroke-dasharray="5 2 2 1.5" opacity="1.0">A</text>
<text transform="translate(2634.5 1603.2) rotate(-26) scale(0.780 1)" text-anchor="middle" font-size="50" fill="none" stroke="#707070" stroke-width="1.5" stroke-dasharray="5 2 2 1.5" opacity="1.0">N</text>
<text transform="translate(2659.7 1593.5) rotate(-15.9) scale(0.780 1)" text-anchor="middle" font-size="50" fill="none" stroke="#707070" stroke-width="1.5" stroke-dasharray="5 2 2 1.5" opacity="1.0">S</text>
<text transform="translate(2685.3 1588.6) rotate(-6.1) scale(0.780 1)" text-anchor="middle" font-size="50" fill="none" stroke="#707070" stroke-width="1.5" stroke-dasharray="5 2 2 1.5" opacity="1.0">P</text>
<text transform="translate(2713.4 1588.2) rotate(4.4) scale(0.780 1)" text-anchor="middle" font-size="50" fill="none" stroke="#707070" stroke-width="1.5" stroke-dasharray="5 2 2 1.5" opacity="1.0">O</text>
<text transform="translate(2742.2 1593.2) rotate(15.4) scale(0.780 1)" text-anchor="middle" font-size="50" fill="none" stroke="#707070" stroke-width="1.5" stroke-dasharray="5 2 2 1.5" opacity="1.0">R</text>
<text transform="translate(2766.5 1602.2) rotate(25.1) scale(0.780 1)" text-anchor="middle" font-size="50" fill="none" stroke="#707070" stroke-width="1.5" stroke-dasharray="5 2 2 1.5" opacity="1.0">T</text>
<text transform="translate(2789.9 1615.8) rotate(35.3) scale(0.780 1)" text-anchor="middle" font-size="50" fill="none" stroke="#707070" stroke-width="1.5" stroke-dasharray="5 2 2 1.5" opacity="1.0">O</text>
<text transform="translate(2815 1638.1) rotate(47.9) scale(0.780 1)" text-anchor="middle" font-size="50" fill="none" stroke="#707070" stroke-width="1.5" stroke-dasharray="5 2 2 1.5" opacity="1.0">W</text>
<text transform="translate(2833.6 1663.3) rotate(59.6) scale(0.780 1)" text-anchor="middle" font-size="50" fill="none" stroke="#707070" stroke-width="1.5" stroke-dasharray="5 2 2 1.5" opacity="1.0">Y</text>
<text transform="translate(2852.2 1714.1) rotate(80) scale(0.740 1)" text-anchor="middle" font-size="50" fill="none" stroke="#3c3c3c" stroke-width="2" stroke-dasharray="7 2 3 1.5" opacity="1.0">D</text>
<text transform="translate(2854.5 1741.7) rotate(90.4) scale(0.740 1)" text-anchor="middle" font-size="50" fill="none" stroke="#3c3c3c" stroke-width="2" stroke-dasharray="7 2 3 1.5" opacity="1.0">O</text>
<text transform="translate(2852.2 1767.3) rotate(100) scale(0.740 1)" text-anchor="middle" font-size="50" fill="none" stroke="#3c3c3c" stroke-width="2" stroke-dasharray="7 2 3 1.5" opacity="1.0">Z</text>
<text transform="translate(2845.7 1792.1) rotate(109.6) scale(0.740 1)" text-anchor="middle" font-size="50" fill="none" stroke="#3c3c3c" stroke-width="2" stroke-dasharray="7 2 3 1.5" opacity="1.0">Ó</text>
<text transform="translate(2834.1 1817.2) rotate(120) scale(0.740 1)" text-anchor="middle" font-size="50" fill="none" stroke="#3c3c3c" stroke-width="2" stroke-dasharray="7 2 3 1.5" opacity="1.0">R</text>
<text transform="translate(2799.8 1858) rotate(140) scale(0.704 1)" text-anchor="middle" font-size="50" fill="none" stroke="#777" stroke-width="1.5" stroke-dasharray="4 2 2 2" opacity="1.0">T</text>
<text transform="translate(2781.6 1871.1) rotate(148.5) scale(0.704 1)" text-anchor="middle" font-size="50" fill="none" stroke="#777" stroke-width="1.5" stroke-dasharray="4 2 2 2" opacity="1.0">E</text>
<text transform="translate(2759.8 1882.2) rotate(157.6) scale(0.704 1)" text-anchor="middle" font-size="50" fill="none" stroke="#777" stroke-width="1.5" stroke-dasharray="4 2 2 2" opacity="1.0">C</text>
<text transform="translate(2735.6 1889.9) rotate(167.1) scale(0.704 1)" text-anchor="middle" font-size="50" fill="none" stroke="#777" stroke-width="1.5" stroke-dasharray="4 2 2 2" opacity="1.0">H</text>
<text transform="translate(2710.4 1893.4) rotate(176.7) scale(0.704 1)" text-anchor="middle" font-size="50" fill="none" stroke="#777" stroke-width="1.5" stroke-dasharray="4 2 2 2" opacity="1.0">N</text>
<text transform="translate(2692.8 1893.5) rotate(183.3) scale(0.704 1)" text-anchor="middle" font-size="50" fill="none" stroke="#777" stroke-width="1.5" stroke-dasharray="4 2 2 2" opacity="1.0">I</text>
<text transform="translate(2675.4 1891.4) rotate(189.9) scale(0.704 1)" text-anchor="middle" font-size="50" fill="none" stroke="#777" stroke-width="1.5" stroke-dasharray="4 2 2 2" opacity="1.0">C</text>
<text transform="translate(2652.6 1885.7) rotate(198.6) scale(0.704 1)" text-anchor="middle" font-size="50" fill="none" stroke="#777" stroke-width="1.5" stroke-dasharray="4 2 2 2" opacity="1.0">Z</text>
<text transform="translate(2631 1876.5) rotate(207.4) scale(0.704 1)" text-anchor="middle" font-size="50" fill="none" stroke="#777" stroke-width="1.5" stroke-dasharray="4 2 2 2" opacity="1.0">N</text>
<text transform="translate(2610.3 1863.5) rotate(216.6) scale(0.704 1)" text-anchor="middle" font-size="50" fill="none" stroke="#777" stroke-width="1.5" stroke-dasharray="4 2 2 2" opacity="1.0">Y</text>
<line x1="2532.8" y1="1769" x2="2512.8" y2="1769" stroke-width="1.6" stroke="#777"/>
<line x1="2527.8" y1="1777.7" x2="2517.8" y2="1760.4" stroke-width="1.6" stroke="#777"/>
<line x1="2517.8" y1="1777.7" x2="2527.8" y2="1760.4" stroke-width="1.6" stroke="#777"/>
<path d="M2721.9 1640.4l0.2 -2.4M2743.1 1654.1l0.2 -4.5M2693.3 1658.5l-1.6 -1.9M2732 1683.6l0.2 -3.1M2752.3 1691.4l3 -2.6M2775.4 1649.2l1.1 -2.4M2720.4 1682.9l-1.1 -4.8M2753.4 1654.5l1.1 -2.1M2757.6 1658.1l2 -4.5M2734.9 1649.9l1.9 -5.1M2714 1667.5l-0.8 -6.3M2762.5 1649.1l1.9 -1.8M2731.4 1679.2l0.1 -4.4M2693.5 1673.5l-1.8 -4.5M2777.1 1650.8l3.5 -3.5M2747.5 1659.9l3.8 -5.5M2737 1673.2l0.3 -5.5M2771.7 1648.9l2.8 -4.6M2691.8 1660.3l-1.6 -2M2702.5 1646.6l-2 -6M2697.6 1659.5l-2.2 -6M2771.5 1686l3 -2.7M2725.4 1687.3l1 -2.5M2707.2 1645.6l-1.5 -4.2M2748.5 1647.5l0.2 -4.1M2726.5 1667l1.9 -5.1M2741.1 1670.2l1 -2M2779.5 1680.6l5.6 -2.2M2728.8 1656.2l-0.7 -5.1M2710.4 1641.1l-0.5 -2.2M2699.7 1654l-3.6 -5.3M2751 1640.2l0.7 -3.7M2726 1638.6l1.8 -6.7M2736.2 1661.7l-0 -2.5M2723.8 1647.7l0.6 -2.7M2742.4 1640.1l0.6 -2.1M2742.4 1693.3l4.2 -3.5M2715.7 1654.2l-1.7 -5.6M2742.8 1680.6l1.2 -2.9M2774.8 1682.3l5.2 -2.4M2712.2 1663.8l-0.5 -2.1M2715.5 1675l0.6 -4.2M2785.1 1654l1.8 -2.6M2709.2 1643.8l-0.5 -6.5M2773.6 1661.4l4.4 -4.1M2698 1673l-1.2 -5.8M2764.6 1661.3l2.5 -5.4M2722.8 1682l1.2 -3.8M2729.7 1691.3l1.1 -2.6M2704.2 1683.6l-0.8 -5.2M2724.6 1665.8l-0.3 -2M2786.6 1672.3l5.4 -3.9M2732.9 1686.5l1.5 -2.7M2714.7 1649.5l-1.2 -4.8M2715.5 1657.5l-2 -6.2M2724.9 1660l0.7 -6.5M2731.6 1689.4l1.4 -4.4M2741.9 1631.9l0.5 -2.9M2706.8 1661l-0.5 -4.8M2722.2 1663.9l0.3 -5.9M2700.2 1666.6l-1.7 -2.9M2766.8 1663.2l3.8 -4.4M2780.8 1659.1l3.4 -3M2740.8 1675l1.7 -4.4M2737.4 1691l3.6 -5.2M2745.5 1691.1l2.1 -1.7M2701.7 1659l-1.7 -2.7M2696.9 1673.6l-2 -6.2M2705 1676.5l-0.7 -2.6M2729.4 1661.9l2.5 -5.6M2705.7 1658.3l-0.9 -3.6M2709.1 1651.1l-0.1 -2.1M2745 1658.9l0.3 -3.6M2751.9 1663.5l1.6 -6.7M2700 1647.7l-3.1 -5M2716.6 1639l-0.7 -6.5M2771.5 1647.3l2.5 -6.1M2746.6 1675.5l0.6 -2.2M2758.4 1657.9l1.8 -6.4M2753 1682l2.6 -5.7M2734.9 1652.4l1.5 -6.5M2716.3 1639l-0.2 -3.2M2720.8 1650.2l0.5 -3.4M2739.6 1642.1l0.3 -2.1M2762.9 1666l1.9 -3.9M2771.4 1658.4l3.8 -4.8M2728.9 1663.1l1.6 -6.7M2723.8 1684l1 -5.1M2730 1652.9l-0.4 -2.6M2696.6 1678.1l-1.8 -2.2M2776.6 1673.6l2.1 -2.4M2718.9 1660.1l-1 -4.1M2786.8 1665.7l4.5 -5.1M2720.5 1653.5l-1.2 -3.7M2737 1662.9l0.4 -4.5M2698.5 1656.3l-1.2 -1.7M2720 1645.6l0.1 -4.6M2764.6 1672.8l4.9 -4.2M2728.5 1651.6l1 -2.5M2762 1671.9l2.5 -5.6M2778.7 1670.9l5.1 -3.3M2703.5 1664.2l-1.9 -5.9M2770 1683.6l5.3 -3.7M2757.8 1675.1l1.1 -1.9M2702.9 1653.8l-3 -5.4M2745.4 1670.9l2.7 -4.7M2738.5 1630.9l2 -5.4M2739.8 1665l0.9 -2.1M2763.2 1646.8l0.9 -3.2M2762.5 1643.8l4.1 -5.5M2738.9 1655.2l1.3 -5.3M2766.2 1670.2l1.7 -1.6M2704.3 1647l-0.3 -3.5M2746.3 1631.5l0 -3.3M2756.8 1675l2.4 -2.5M2741.2 1660.4l0.8 -2.5M2778.9 1643.5l5.3 -4M2691.3 1660.1l-1.8 -6.6M2734.5 1647.9l0 -6.7M2710.6 1667.9l-1.9 -4.2M2771.6 1663.3l4.5 -3.2M2712.7 1688.2l-0.6 -2M2689.9 1662.2l-1.8 -3M2703.6 1652.7l-2.2 -5.8M2782.2 1676.3l3.2 -1.3M2726.8 1655.9l1.8 -4.6M2725.6 1658.1l-0.2 -2.2M2718.1 1690.6l-0.9 -3.2M2740.6 1642.9l1.1 -6.7M2778 1682.7l5.7 -3.2M2783.6 1665.9l1.9 -1.3M2762.8 1659.6l3.5 -3.8M2718.2 1633.8l0.6 -2.6M2736.8 1652.7l0.6 -5.7M2755.2 1650l1.8 -3.5M2706.3 1641.1l-2.3 -6.1M2739.3 1644.8l3.2 -6.2M2734.5 1639.6l-0.1 -2.5M2723.7 1636.5l-0.4 -3.3M2746.5 1687.5l2.9 -2.8M2730.9 1664.3l0.3 -3.7M2695.8 1648.5l-0.2 -2.6M2739.9 1671l1.7 -2.6M2716.7 1646.6l-0.5 -4.2M2779.1 1661l1.5 -1.4M2728.7 1690l2.6 -5.7M2741.8 1674.4l3.5 -4.4M2754.3 1679.7l2.9 -3.8M2712.8 1689.6l-0.7 -3.5M2702.3 1646.8l-0.9 -5.4" stroke-width="1.7" stroke-linecap="round" stroke="#4a4a4a"/>
<path d="M2733 1725.7l2.2 0.2M2737.6 1677.6l-0.7 -2.8M2759.1 1730.9l0.5 2.9M2715.6 1697.5l3.3 -1.5M2731.5 1733.4l1.8 1.4M2741.6 1754.4l1.6 0.3M2721.8 1712l1.1 -1.8M2749.4 1738.8l1.8 1.2M2750.8 1696.1l0.1 -3.8M2719.2 1756.7l-0.1 2.1M2715 1711.7l-0.6 -4.3M2710.3 1709.8l-4.4 0.4M2705.2 1709.7l0.9 -4.1M2757.4 1704.4l0.9 -4.2M2741.4 1708.5l1.5 -2M2718.3 1706.2l1.7 -0.8M2723 1745.7l-2.2 1.7M2704.5 1716.5l-4.2 0.6M2713.1 1707.3l0.9 -1.3M2726.2 1744.9l-0.9 1.3M2756.8 1698.3l4.1 0.7M2721.9 1699.6l3.3 -0.6M2717.3 1736.9l0.7 2.2M2756.5 1730l-0 1.6M2715.6 1716.6l1.7 -4M2724.7 1697.8l-0.2 -3M2749.7 1738.7l0.1 3.8M2738 1704.2l0.6 -2.5M2713.4 1739.9l0.6 1.6M2703.6 1723.1l-3.5 2.7M2717.4 1683.8l-2.9 -0.7M2744.1 1714.3l1.3 -2.4M2738.8 1733.3l0.8 4M2741.4 1686.9l2.4 -0M2735.6 1708l2.1 -0M2716.4 1697.3l-3.9 -1.3M2736.2 1704.1l1.8 -4.1M2732 1696.1l3.4 -0.8M2730 1745.5l-2.7 3.3M2708.7 1692.6l2.7 -1.8M2757.4 1708l2.1 2M2717.1 1742l-1.8 0.1M2737.3 1728.8l2.4 -1M2710 1693.8l-3 -1.4M2740.7 1693.8l-1.9 -1.6M2742.3 1692.3l0.1 -2.1M2749.3 1722.7l0.6 -1.7M2725.3 1722.9l1 1.4M2711.4 1735.1l-0.8 2.2M2720 1756.8l1.6 2.8M2723 1711.7l4.3 -1.4M2723.4 1693.3l1.4 -1.5M2727 1745.6l2 3.6M2729.2 1690.4l-2.9 -1.1M2740 1753.1l3.3 -0.6M2723.8 1719.1l-0.3 -2.3M2732.8 1754.4l3 0.2M2713.4 1687.3l3.9 -2M2730.5 1681.2l2.7 -0.2M2755.8 1728.8l0.7 1.9M2748.7 1695.4l2.1 -3.5M2751.3 1692.1l-0.1 -2.7M2732.6 1708.9l-0.8 -2.1M2745 1752.1l2.9 -1.4M2737.5 1722.9l2.1 1.2M2726.8 1725.6l3 1.8M2728.4 1713.5l-2.1 -2.6M2730.9 1696.5l3.5 -1.5M2729 1691.8l0.3 -1.8M2709.3 1712.9l-2.2 1.7M2732.2 1680.1l1.1 -1.4M2745.6 1742l1.2 1.1M2731.8 1708.4l1.7 0.9M2745.5 1745.2l4.4 -0.5M2731.1 1757.1l-1.7 1.1M2705.5 1706.2l-0.1 -2M2755.3 1699.8l1.8 0.7M2731.7 1754l2.1 0.9M2731.9 1703.5l-1.5 -1.4M2742.3 1751.9l3.9 -0M2708.5 1721.3l-2.4 -0.9M2753.9 1723.3l3.9 1.3M2739.3 1709.8l2.2 0.8M2761 1725.2l3.6 -1.1M2728.1 1691.6l1.3 -1M2750.7 1698l4.3 -1.1M2736.7 1732.5l1.5 0.1M2738.5 1713l3.9 -1.6M2709.5 1695.8l0 -1.6M2707.9 1706.7l-3.2 0.1M2736.9 1693.9l2.3 -1.8M2716.2 1689.2l-3.4 -0.6M2753.8 1742.4l2.2 0.7M2735.3 1706.1l2.6 -1M2757.8 1738.3l4 -1.3M2704.2 1721.4l-2.1 0.7M2702.3 1723l-0.7 -1.8M2713.5 1727.8l-2.6 2.2M2750.4 1691.4l0.5 -2.4M2748.5 1736.8l2.4 -3.3M2746.3 1715.8l2.5 1.4M2715.1 1685.5l-1.3 -0.9M2721.7 1739.7l-2.2 3.4M2744.3 1699l2.3 -1.6M2748.9 1720.7l2.6 -2.2M2717.2 1696.5l2.3 -3.7M2746.3 1704.2l2.1 1.3M2715.9 1752.9l-1.9 3M2729.7 1747.2l-1.2 3.9M2727.8 1737.6l0.3 2.4M2714.3 1729l2.2 3.6M2722.2 1688.6l-1.6 -0.3M2743.1 1730l2 3.1M2705.5 1726.3l-2.9 2.7M2708 1694l-1.6 0.1M2752.4 1744.9l1.9 3.5M2739.4 1700.8l-0.8 -1.6M2747 1693.9l0.6 -2.7M2718.5 1736.8l0.5 2.4M2759.4 1719l1.8 2.8M2703.4 1711.4l-3.7 -1.1M2722.4 1735.9l-0.1 2.1M2750.7 1691l-1.4 -1.6M2701.8 1717.9l-3.9 -0.4M2712.6 1718.3l-3.9 0.8M2718.6 1694.7l1.4 -2.7M2708.1 1730.2l1.1 3.7M2743.4 1742.8l1 2.4M2725.6 1709.9l1.8 -0.1M2713.9 1698.8l2.3 -1.9M2724.3 1751l2.2 1.8M2733.4 1740.1l-0.7 3.4M2722.5 1704.1l-3.3 -2.2M2741.3 1739l2.7 -0.7M2748 1725.4l1.7 -2.3M2754.7 1696.7l0 -2.4M2743.7 1747.6l1.9 -0.3M2716.4 1704.1l-0.5 -1.9M2721.2 1692.6l3.6 -0.6M2707.7 1709l2.1 -3.2" stroke-width="2" stroke-linecap="round" stroke="#2e2e2e"/>
<path d="M2803.5 1726.4l3.8 -0.9M2766 1718.1l2.1 -0.4M2783.5 1739.2l3.1 1.6M2797.5 1727.4l3.7 -1M2783.8 1737.4l2.6 2M2794 1737.7l2.7 0.4M2802.9 1742.4l3.5 2.1M2810.7 1735.2l3.2 1M2778.3 1733.3l3.2 -0.6M2806.5 1736.4l2.6 0.8M2785 1727.1l3.1 0.7M2800.1 1744.2l4 -0.1M2806.2 1724.7l4.9 0.2M2761.8 1730.3l4.3 -0.5M2816 1729.4l3.5 -1.1M2792 1736.5l3.8 0.9M2809.3 1729.5l4.8 0M2772.2 1735.3l4.2 0.7M2780.9 1712.7l3 -1.1M2760.4 1725.8l4.1 0.2M2780.7 1720.3l4.1 -1.2M2815.9 1729.7l4.3 -0.8M2783.1 1718.3l4 -1.7M2808.1 1733.5l3.7 0.4M2780.7 1733.7l3.8 2.3M2787.6 1721.3l2.4 0.1M2809.6 1723.5l2.6 1M2782.1 1719.8l2.5 -0.2M2776.4 1719.5l3.4 -0.7M2785.3 1733.6l2.9 1.1M2813.9 1738.9l4.4 -0.7M2798.9 1719.7l2.2 -1M2773.6 1738.7l2.4 0.4M2813.8 1739.2l4.6 -0.6M2796.1 1738.8l4.3 1.9M2806.8 1740.9l4.1 -0.3M2791.4 1737.4l4.6 0.8M2792.9 1720.2l2.3 -0.7M2789.1 1712.8l2.4 -0.4M2789 1728.6l4.5 0.7M2787.6 1731l4.3 1.4M2782 1725.8l1.9 1.2M2797.8 1733.6l3.7 -1.1M2800.5 1744.2l4.9 0.6M2790.2 1728.2l1.8 1M2802.6 1733.2l4.6 -0M2781.5 1727.8l4.3 0.6M2772.2 1726.4l3.7 0.1M2809.2 1721.2l3 1.1M2789.8 1720.5l4.9 0M2798.8 1739.2l2.9 0.2M2777.5 1731.8l4.1 1.4M2812.7 1730.3l2.7 -1M2814.8 1732.6l4.2 1.2M2814.1 1732.7l3.8 0.9M2801.3 1732.2l2.5 0.8M2799.6 1727.2l2.2 0.8M2806 1743.6l2.8 1.3M2808.9 1739l2.7 0.7M2777.7 1725.9l3.3 -0.3M2798.1 1744.3l3.7 -0.5M2808.2 1731.4l2.9 1.7M2760.4 1724.6l4.7 0.9M2818.4 1727.8l2.3 -0M2798.2 1718.3l1.9 -0.8M2802.7 1719.4l2.5 0.6M2802.4 1741.5l2 1M2797.3 1736.2l4.7 0.8M2778.2 1737l4.6 -0.2M2788.7 1712.9l3.6 -0.9" stroke-width="1.7" stroke-linecap="round" stroke="#3a3a3a"/>
<path d="M2734.4 1811.3l2.1 5.6M2725.7 1808.5l-0.1 4.1M2728.3 1820.9l-1.2 5.8M2749.3 1777.4l4.5 5.2M2765.1 1824.5l2.4 4.4M2753.3 1778.9l3.3 5.5M2727.2 1812l0 6.5M2777.2 1776.6l2.9 1.6M2732.6 1803.3l-0.4 6.4M2777.7 1828l1.4 3M2782.3 1822.7l2.7 6M2723.8 1759.2l0.2 6M2706.8 1817.7l-1.3 2.9M2754 1811.3l1.1 2.8M2713.1 1817.8l-1.1 4.2M2773.1 1772.2l4.4 4.8M2786.2 1797.6l3.2 3.7M2705.5 1768.6l-0.7 5.5M2725.6 1801.4l0.5 4.6M2695.9 1807.4l-1.2 2.5M2752.8 1782.1l0.9 1.9M2784 1794.5l2 2.6M2773.9 1789.2l2.2 5.4M2706.9 1767.6l-0.1 2.3M2748.2 1828.3l1.8 6.5M2752.9 1786.7l4.2 5.3M2713.4 1801.4l-1.2 6.7M2761.2 1786.3l1.5 2.3M2713.2 1782.7l-2.4 6.1M2774.8 1814.2l2.9 6.3M2762.1 1778l3.1 4.9M2695.8 1780.2l-0.7 2.5M2739.4 1766.5l1.4 2.3M2766.8 1768.9l5.7 3.4M2699.8 1791.1l-0.4 6.6M2781.3 1807l2.2 3M2779 1793.7l1.5 2.3M2766.3 1800.4l4.2 4.8M2714.5 1787.9l0.3 3.3M2780.9 1781.1l3.7 2.5M2720.4 1831.2l1.5 6.7M2761.1 1770.3l2.2 2.7M2713.5 1769.4l-0.6 6.9M2694.9 1777.2l-1.4 1.8M2767.8 1777.5l0.8 1.9M2777.2 1781.7l1.6 1.2M2780.1 1798l3.1 2.8M2789.3 1770.9l2.1 1.7M2704.4 1819.5l-0.9 2.9M2754.1 1795.3l1.6 2.6M2754.6 1814l0.8 4.9M2768.5 1787.6l1 2M2777.6 1781.2l3.3 5.4M2740.7 1753.1l1.2 4.2M2784.7 1775.1l5.3 3.1M2726.1 1766.1l0.9 4.9M2684.1 1797.5l-1.9 4.2M2697.6 1814.6l-2.7 5.7M2720.8 1814.3l0.4 5.7M2794.2 1795.2l3.2 3.4M2745.9 1753.5l1.1 2.9M2712.6 1823.6l0.5 2.4M2764.6 1768.9l4.3 2.6M2750.4 1797.7l0.6 2.4M2784.4 1814.8l2 1.7M2740.8 1795.8l1 2.4M2730.6 1763.8l1 6.2M2700.6 1802.1l-1.1 2.6M2728.6 1788.7l-0.5 4.6M2729.4 1834.5l-0.4 3.7M2711.4 1781.2l-0.9 6.9M2778.1 1826.3l3.2 3.3M2712.5 1788.9l-0.8 3.7M2745.1 1757.8l2.6 3.7M2792.2 1807.4l3.1 5.6M2758 1775.1l1.6 3M2746.5 1833.1l0.5 3.2M2743.9 1789.9l0.1 3.4M2719 1808.7l1 4.9M2794.5 1796.9l3.4 2.7M2745.5 1764.8l1.8 2M2717.6 1787.5l0.2 3.2M2693.7 1799.8l-2.6 4.3M2749.7 1808.9l2.6 4.9M2737 1799.9l0.5 4.3M2719.6 1773l0.6 4.5M2728 1803.2l1.4 3.5M2783.5 1772.7l3.3 3M2717.8 1819.7l0.4 2.3M2784.6 1790.4l3.3 2.1M2734.6 1816.4l1.1 2.9M2701.5 1781.4l-1.2 5.2M2755 1826.5l0.5 4.6M2769.2 1817.1l1.3 4.2M2774.6 1814.1l0.7 2.5M2772.4 1803.3l3.6 5.8M2749.9 1788.5l1.4 6.2M2754 1785.1l2 3.8M2767.4 1777.5l3.2 3.5M2728.2 1780l-0.4 6.2M2741.5 1790.8l1.6 3.1M2700.4 1802.3l-0.7 2.3M2790.3 1780.2l3.8 4.9M2733 1831.8l0.9 2.1M2749.1 1795.5l0.6 5.8M2746 1839.6l0.9 4.5M2763 1786l3 4M2724.3 1835.1l-0.4 4.6M2695 1784.7l-1.6 4.5M2750.1 1829.1l-0.1 4.4M2734.6 1806.7l-0.5 3.7M2745 1823.5l1.5 3.3M2743 1761.4l1.3 5.3M2786.6 1788.7l2.8 2M2742.9 1796.1l1.3 2.6M2756.6 1804.8l3.2 6.2M2757.4 1755.4l4.5 3.9M2719.1 1812.5l0.9 3.4M2781.2 1803.3l1.5 2.6M2741.3 1800.4l2 4.9M2745.2 1839.5l0.6 4M2771.7 1761.1l2.6 1.2M2744.2 1824.1l0.9 6M2772.9 1780.1l2.1 3.1M2703.2 1775.2l-0.6 6.5M2751.1 1782.4l1.8 3.5M2751.1 1836.2l1.4 4.9M2720.1 1830.8l-0.7 3.4M2753.4 1836.2l1.8 6.5M2711.7 1786l-0.9 3M2719.4 1828.7l-0.1 6M2711.8 1767l-0.4 2.9M2748.7 1761.8l2.1 3.3M2730.3 1757.5l2.7 5.5M2724.3 1773.3l0.8 3.3M2760.6 1781.8l3.9 3.9M2694.3 1775.4l-1.6 2.1M2735 1825.3l-0.2 2.8M2724.5 1815.3l0.7 6.8M2742.1 1771.7l1.1 2.4M2765.5 1774.7l2.1 4.5M2726.2 1773.4l0.1 3.1M2743.1 1799.5l2.3 5.4M2728.2 1809.6l0.1 3.6M2728.8 1759.3l2.3 5.8M2720.8 1810l1.1 4.7M2725.5 1795.7l0.4 2.3M2719.7 1771.6l1 5.5M2716.3 1787.2l-1.9 5.6M2698.9 1776l-0.6 5.4M2760.5 1782.6l3.1 4.3M2764.7 1773.6l1.7 3.3M2756.5 1767.7l5 4.2M2768.7 1814.4l1.5 1.6M2702.3 1769.1l-1 3.8M2688.1 1779.1l-1.6 2.4M2780.9 1801.9l1.6 2.9M2734 1811.9l0.4 2M2780.3 1820l1.4 1.7M2782.6 1805.2l2.5 2M2696.5 1821.4l-0.5 6.6M2770.5 1759.3l2.8 2.8M2770.3 1824.6l1.3 2.1M2793.3 1789l2.9 4.6M2769.2 1824.7l1.5 4M2689.9 1813.2l-1.3 4.4M2765.1 1822.6l2.5 4M2796 1807.8l2 2.5M2690.4 1783.2l-1.2 2.8M2719.6 1763.7l-0.9 5.3" stroke-width="1.6" stroke-linecap="round" stroke="#555"/>
<path d="M2616.1 1685.4l-3.6 -1.2M2697.1 1702.5l-4.9 -2.6M2605 1735.6l-5.1 1.4M2652.2 1766.3l-3.1 3.5M2658 1719.6l-5.2 -1.2M2601.8 1692.8l-2.8 -0.3M2595.6 1691.5l-4.8 0.1M2640.5 1665.3l-3.5 -1.7M2630.7 1673.9l-2 -0.3M2598.3 1759.6l-4.2 -0.3M2601.2 1724l-2.8 0.2M2651.5 1649l-1.9 -4.1M2661.4 1793.6l-2.2 2.1M2617.1 1669.3l-5.1 -0.4M2685.9 1693.9l-4.2 -1.7M2608.1 1770.1l-4.9 0.7M2626.4 1676.5l-2.5 -2.1M2631.3 1733.7l-5.2 1.3M2654.3 1745.7l-4.8 0.5M2645.9 1725.6l-3 1.1M2656 1660.2l-1.7 -2.1M2640 1799l-1 1.9M2639.5 1677.5l-1.6 -1.2M2686.1 1781.1l-2.6 2.7M2621.4 1750.9l-3.5 1M2627.8 1716.1l-5.2 -1M2622.9 1716.8l-3.4 -0.3M2626.1 1719.5l-5.2 -2.1M2700.1 1744.4l-1.9 1.2M2667 1742.7l-3.7 2.2M2699.1 1722.7l-3.2 -0.1M2628.4 1785.8l-1.5 2.3M2667.3 1717.5l-4.5 1.3M2631.7 1738.3l-4 1.1M2654.1 1709.5l-2.7 0.4M2691.8 1733.2l-4.1 3.5M2618 1662.5l-2.6 -1.5M2645.3 1734.1l-4 1.6M2601.7 1727.8l-2.3 -0M2635.9 1659.2l-4.6 -3M2652.4 1759.2l-2.3 0.7M2634 1674.4l-2.8 -3.2M2678.4 1669l-1 -2M2616 1705.8l-4.2 1.1M2613.3 1694.5l-3.4 -1.5M2691.6 1744.6l-4 1.6M2608 1764l-4.5 2.4M2667.5 1776.5l-1.6 3.1M2658.6 1663.3l-3.7 -3.7M2666.9 1687.4l-3.6 -1.1M2685.8 1738.4l-1.5 1.4M2601.4 1772.6l-3.3 2.6M2622.2 1754.9l-2.3 1.1M2690.1 1731.7l-5.1 1M2628.3 1671.3l-4.8 -2.6M2609.7 1775.4l-3.4 1.1M2643.7 1672.4l-2.4 -2.6M2689.8 1743l-1.9 2.7M2613.6 1787.2l-1.9 1M2608.2 1704l-4.3 -0.5M2633.5 1702.9l-4.2 0.8M2641.8 1801.6l-1 2.4M2666.4 1690.2l-3.8 -1.3M2619 1736.5l-5.8 0.8M2653.6 1768l-4.9 1.6M2662 1746.7l-2.7 1.6M2680.8 1783.9l-3.8 2.8M2623.8 1766.8l-3.9 1M2662.2 1702.4l-3.4 -1.2M2595.6 1700.3l-6 -0.1M2644.4 1705l-2.9 0M2629.1 1668.9l-5.4 -0.6M2641.1 1717.2l-3.2 -0.3M2623.5 1695.8l-3.8 -1.8M2697.3 1700.8l-2.3 -3.7M2655.9 1801.8l-2.7 4.3M2638.2 1783.2l-2.2 3.3M2692.8 1690.7l-1.7 -1.2M2607.6 1689.5l-2.6 -1.2M2634.9 1679l-4.7 -2.8M2663.7 1678.4l-4 -4.3M2658.3 1660.1l-2.9 -4.7M2628.1 1669l-4 -1M2690.1 1747.5l-2.7 1M2626.5 1764.6l-3.4 1.1M2667.3 1700.4l-3.7 -0M2593.8 1745.4l-3.8 1.3M2657.9 1687.8l-1.9 -0.9M2695.9 1735.7l-2.2 0.3M2659.8 1760.7l-1.8 1.5M2606.7 1670l-1.9 -1.4M2683 1713.7l-4.3 -0.9M2652.9 1750.3l-3.1 1.1M2674.5 1687.9l-3.6 -3.5M2678.6 1695.9l-4.4 -4M2641.1 1691.1l-5.4 -2.1M2643.7 1749.9l-3.4 0.5M2676.3 1661.7l-2.2 -1.3M2595.5 1726l-2.7 -0M2697.6 1704.7l-2.6 -0.8M2674.1 1791.5l-0.7 2M2678.8 1685.5l-1.9 -3.5M2662.3 1701.4l-3.3 -2M2626.1 1788.7l-2.9 4M2596.1 1748.4l-5.2 1.6M2595.5 1735.7l-5.6 1.1M2698.2 1745.5l-1.5 2.6M2619 1715.4l-2.8 0.5M2676.6 1748l-4.5 3.9M2613.7 1736.6l-5 2.2M2689.4 1689.4l-3 -4.4M2621.3 1699.4l-5.5 -1.1M2607.3 1754.2l-3.7 0.8M2655.7 1785.4l-2.9 4.7M2630.4 1769.4l-2.7 0.5M2606 1762.5l-2.1 1.7M2667.8 1661.8l-4.3 -3.7M2671.6 1785.3l-1.8 1.1M2615.8 1771.3l-2.1 0.6M2647.1 1683.8l-2.2 -1M2625.3 1784.8l-2.5 3.1M2604.3 1714.5l-4.6 1M2605.7 1762.9l-2.3 0.8M2629.6 1725.1l-3.3 -1M2691 1761.8l-1.2 2.4M2619.3 1658.5l-4 -0.7M2635.9 1734.5l-2 0.5M2668.4 1749.6l-3.8 1.9M2689.9 1759.7l-1.9 2.7M2637.2 1799.5l-2.4 2.6M2636.1 1670l-1.2 -1.6M2659.1 1792.2l-2.2 3.9M2632.3 1685.3l-2.4 -0.3M2686.3 1770l-1.8 1.3M2669.1 1698.3l-3.6 -2.1M2687.6 1727.3l-5.9 0.7M2615.7 1745.9l-3.5 0.1M2671.2 1709.1l-4.3 -1.1M2667.1 1698l-3.7 -2M2614.5 1743.3l-5.2 2.2M2643.5 1760.3l-3.5 1.7M2614.2 1669.9l-2.9 -2.9M2649.3 1730l-2.9 -0.4M2608.5 1775.9l-4 2.1M2632.8 1777.5l-2.4 0.8M2606.4 1686.9l-3.4 0.1M2681.7 1729l-2.3 0.6M2669.2 1717.8l-5.2 -0.2M2676.6 1671.1l-1.9 -2.9M2649 1684.8l-3.1 -1.2M2632.8 1650.5l-3.9 -1.8M2671.9 1690.5l-2.7 -1.2M2662.3 1781.7l-1.9 3.2M2680.5 1744.1l-1.8 1.3M2639.9 1705l-3 -1.1M2635.9 1748.8l-3.4 0.2M2633.3 1738l-2.7 -0.4M2631.7 1751.5l-2 1M2676.3 1706.9l-3.8 -1.2M2693.1 1765.8l-0.8 4.3M2642.2 1719.8l-3.5 -1M2643.5 1786.6l-2.9 2.7M2647.9 1776.4l-4.3 2.4M2635.1 1654l-2.9 -3M2677.8 1767.8l-1.2 2.6M2675.9 1735.8l-3.7 3M2671 1723l-4.4 1.9M2637 1738.8l-5.2 -1M2627.3 1728.5l-5.3 2.7M2620.4 1688.6l-3 -0.5M2688.2 1734.4l-3.4 1.4M2594.5 1695.2l-4.6 -2.5M2687.9 1687.8l-1.9 -1.1M2650.8 1706l-3.9 -0.7M2656.3 1704.8l-2.5 -1.3M2695.2 1734.5l-2.2 2.4M2650.4 1711.5l-3.2 -0.6M2620.3 1771.9l-3.9 2.9M2681.6 1740.1l-5.1 2.7M2640.2 1784.7l-2 3.2M2662.7 1655.3l-1 -2.1M2657.7 1675.8l-2.5 -3.5M2681.4 1725.4l-4.7 -0.1M2622.8 1680.6l-2 -1.6M2636.7 1750.5l-4.8 2.8M2668.1 1671.9l-4.4 -1.8M2622.6 1684l-3 -1.3M2653.6 1671.7l-1.9 -2.7M2686.1 1671.4l-2.2 -5.5M2634 1652.8l-3.9 -2.4M2614.5 1732.8l-3.5 1.6M2673 1714.8l-2.4 -0.6M2697.5 1729.8l-2.9 1.7M2675.6 1725.2l-2.3 -0.6M2644.8 1782.5l-3.4 2.3M2620 1787l-2.8 0.9M2658 1798.6l-3.1 4.9M2664.7 1655.5l-2.9 -2.5M2617.3 1763.5l-4.1 3.1M2623.1 1658.5l-2 -1.4M2652.5 1770.6l-3.3 2M2592.5 1727.8l-4.3 1.7M2603.9 1737.9l-3.4 0.9M2665.5 1673.3l-5.2 -2.4M2627 1779.1l-3.8 1M2646.1 1731.3l-3.5 1.7M2607.6 1731.2l-3.5 0.3M2611.5 1710.7l-2.5 0.4M2616.4 1783.7l-4.8 2.9M2645.2 1771.1l-4.1 2.4M2615.1 1764.7l-2.4 1.9M2592.1 1709.1l-3.2 -0.3M2655.7 1684.2l-4.3 -2.8M2671 1657.4l-3.4 -2.8M2660.3 1755.6l-3.2 0.9M2682.6 1719.7l-1.9 -0.7M2697.6 1712l-2.3 -0.6M2617 1762.2l-2.5 0.6M2628.5 1669.6l-2.8 -0.7M2644.2 1725.3l-5.6 -0.9M2675.7 1747l-3.3 3.1M2686.7 1770.4l-1.4 4.7M2629.1 1673l-3.1 -3.5M2675 1668.8l-2.6 -5.1M2693.5 1763.9l-3.9 3.5M2657 1715.6l-4.8 -1.7M2689.6 1694.3l-2 -3.6M2617.8 1778.5l-2.1 1.8M2641.7 1684.6l-5.1 -2.3M2668.1 1758.5l-3.9 3.3" stroke-width="1.3" stroke-linecap="round" stroke="#b5b5b5"/>
<path d="M2705 1693.5l-1 -5.2M2674.1 1651.8l-2.5 -4.7M2668.7 1687.3l-3.5 -3.8M2641.9 1679.9l-2.4 -0.2M2706.5 1675l-0.9 -3.7M2668.4 1660.7l-4 -3.6M2691.1 1666.2l-2.3 -2.1M2697.6 1676.6l-1.9 -4.9M2651.2 1693.5l-5.3 -0M2656.3 1664.7l-1.6 -3M2659.5 1708l-5.3 -1.6M2673.1 1680.7l-2 -3.5M2708 1657.1l-0.4 -2M2677.9 1702.4l-3.3 -0.7M2649.6 1684.4l-2.9 -2.8M2671.7 1710.7l-4.1 -2.3M2647.6 1689.4l-5.5 -2M2670.5 1692l-2.9 -2M2683.3 1693.1l-2.3 -3.3M2670.7 1714l-5.2 1.2M2696.2 1684.7l-3 -4M2712.8 1696.7l-0.3 -2.1M2667.6 1655.3l-1.8 -5.3M2653.1 1686.8l-1.9 -1.1M2672.9 1698l-2.7 -1.6M2702.5 1666.1l-1.1 -3.5M2705.9 1693.1l-3.4 -4.8M2698.3 1694.1l-2.1 -1.7M2687.6 1703.5l-2.6 -2.2M2652.7 1681.8l-1.8 -1.9M2700.6 1657.7l-1 -2M2665.4 1672.5l-2.7 -5.2M2656.5 1667.4l-1.4 -2.4M2667.2 1676.4l-2.8 -1.1M2673.1 1672.7l-1.2 -2.8M2677.6 1704.3l-4.6 -2.3M2666.7 1656.4l-1.9 -3.4M2686.3 1692.6l-2 -2.4M2670.6 1709.9l-3.1 -0.7M2692 1663.9l-0.6 -2.1M2707.7 1685.4l-2.7 -5.1M2662.8 1662.7l-3.8 -1.8M2701.9 1693.2l-3.3 -4M2650.5 1667.2l-4.3 -4M2692.3 1694.1l-2.1 -2.9M2668.9 1673.2l-1.9 -2.8M2656.4 1706.7l-4 -1M2695.1 1708.8l-3.3 -0.4M2646.8 1674.6l-4.6 -2.8M2695 1686.2l-2.9 -3.2M2663.5 1704.8l-4.7 -2.6M2653.6 1692.7l-3.3 -2.2M2701 1703.2l-3.7 -4.1M2652.1 1695l-3.9 -2.2M2663.6 1650.4l-3 -4.4M2663.4 1660.6l-2 -1.3M2705.7 1670.9l-0.3 -2.3M2708.6 1668.5l-2.7 -3.6M2652.7 1665l-3.6 -1.2M2685.9 1702.2l-5.3 -0.6" stroke-width="1.4" stroke-linecap="round" stroke="#9a9a9a"/>
<path d="M2725.6 1704.7 a17 17 0 1 1 23 16" stroke-width="1.8" stroke-dasharray="5 2" stroke="#333"/>
<path d="M2717.6 1708.7 a24 24 0 0 1 30 -20" stroke-width="1.5" stroke-dasharray="4 2" stroke="#444"/>
<!-- s_labels -->
<text x="361.4" y="357.8" textLength="579.5" lengthAdjust="spacingAndGlyphs" fill="#1a1a1a" stroke="#fff" stroke-width="0.5" font-size="32.5" xml:space="preserve">MIEJSCE NA NUMER HOMOLOGACJI</text>
<line x1="360.1" y1="366.2" x2="941.9" y2="366.2" stroke-width="1.5"/>
<text x="361.1" y="399.4" textLength="566.1" lengthAdjust="spacingAndGlyphs" fill="#1a1a1a" stroke="#fff" stroke-width="0.5" font-size="32.5" xml:space="preserve">PLACE FOR THE APPROVAL NUMBER</text>
<line x1="359.7" y1="406.1" x2="942.2" y2="406.1" stroke-width="1.5"/>
<line x1="359.7" y1="407.1" x2="705" y2="874.7" stroke-width="1.5"/>
<line x1="359.7" y1="407.1" x2="829.2" y2="924.1" stroke-width="1.5"/>
<text x="637.2" y="474.6" textLength="334" lengthAdjust="spacingAndGlyphs" fill="#1a1a1a" stroke="#fff" stroke-width="0.5" font-size="32.5" xml:space="preserve">ŚRODEK ODNIESIENIA</text>
<line x1="636.4" y1="482.6" x2="973.5" y2="482.6" stroke-width="1.5"/>
<text x="637.8" y="516.2" textLength="424.2" lengthAdjust="spacingAndGlyphs" fill="#1a1a1a" stroke="#fff" stroke-width="0.5" font-size="32.5" xml:space="preserve">CENTER OF THE REFERENCE</text>
<line x1="636" y1="524.5" x2="1073.7" y2="524.5" stroke-width="1.5"/>
<line x1="636" y1="525.1" x2="746" y2="963.8" stroke-width="1.5"/>
<text x="1446.3" y="350.7" textLength="250.4" lengthAdjust="spacingAndGlyphs" fill="#1a1a1a" stroke="#fff" stroke-width="0.5" font-size="32.5" xml:space="preserve">OŚ ODNIESIENIA</text>
<line x1="1445.5" y1="357.7" x2="1700.5" y2="357.7" stroke-width="1.5"/>
<text x="1373.6" y="391.8" textLength="370.6" lengthAdjust="spacingAndGlyphs" fill="#1a1a1a" stroke="#fff" stroke-width="0.5" font-size="32.5" xml:space="preserve">AXIS OF THE REFERENCE</text>
<line x1="1362.7" y1="399.9" x2="1782.3" y2="399.9" stroke-width="1.5"/>
<line x1="1782.3" y1="400.3" x2="1702.3" y2="718.1" stroke-width="1.5"/>
<path d="M2047.3 1293.4 A660 660 0 1 1 3190.5 1293.4" stroke-width="1.4"/>
<path d="M2618.9 303.4 L2588.9 309.2 L2588.9 297.7Z" stroke-width="1.6" stroke-linejoin="miter"/>
<path d="M2618.9 303.4 L2648.9 297.7 L2648.9 309.2Z" stroke-width="1.6" stroke-linejoin="miter"/>
<path d="M2047.3 1293.4 L2026.8 1270.8 L2036.7 1264.8Z" stroke-width="1.6" stroke-linejoin="miter"/>
<path d="M3190.5 1293.4 L3201.2 1264.8 L3211 1270.8Z" stroke-width="1.6" stroke-linejoin="miter"/>
<rect x="2049.2" y="531.1" width="114.4" height="46" fill="#fff" stroke="none"/>
<path d="M2061.2 535.1 Q2050.2 555.1 2061.2 575.1" stroke-width="1.6"/>
<path d="M2151.6 535.1 Q2162.6 555.1 2151.6 575.1" stroke-width="1.6"/>
<text x="2106.4" y="566.1" text-anchor="middle" textLength="69.4" lengthAdjust="spacingAndGlyphs" fill="#1a1a1a" stroke="#fff" stroke-width="0.5" font-size="33.5">120°</text>
<rect x="3117.7" y="585.6" width="111.9" height="46" fill="#fff" stroke="none"/>
<path d="M3129.7 589.6 Q3118.7 609.6 3129.7 629.6" stroke-width="1.6"/>
<path d="M3217.6 589.6 Q3228.6 609.6 3217.6 629.6" stroke-width="1.6"/>
<text x="3173.7" y="620.6" text-anchor="middle" textLength="66.9" lengthAdjust="spacingAndGlyphs" fill="#1a1a1a" stroke="#fff" stroke-width="0.5" font-size="33.5">120°</text>
<line x1="2318.4" y1="415.4" x2="2919.4" y2="415.4" stroke-width="1.4"/>
<path d="M2318.4 415.4 L2348.4 409.7 L2348.4 421.2Z" stroke-width="1.6" stroke-linejoin="miter"/>
<path d="M2618.9 415.4 L2588.9 421.2 L2588.9 409.7Z" stroke-width="1.6" stroke-linejoin="miter"/>
<path d="M2618.9 415.4 L2648.9 409.7 L2648.9 421.2Z" stroke-width="1.6" stroke-linejoin="miter"/>
<path d="M2919.4 415.4 L2889.4 421.2 L2889.4 409.7Z" stroke-width="1.6" stroke-linejoin="miter"/>
<line x1="2318.4" y1="403.4" x2="2318.4" y2="1141.4" stroke-width="1.3"/>
<line x1="2919.4" y1="403.4" x2="2919.4" y2="1139.4" stroke-width="1.3"/>
<text x="2473.9" y="407.2" text-anchor="middle" textLength="66" lengthAdjust="spacingAndGlyphs" fill="#1a1a1a" stroke="#fff" stroke-width="0.5" font-size="32.5">66.4</text>
<text x="2769.9" y="407.3" text-anchor="middle" textLength="66" lengthAdjust="spacingAndGlyphs" fill="#1a1a1a" stroke="#fff" stroke-width="0.5" font-size="32.5">66.4</text>
<line x1="2412.6" y1="482.6" x2="2825.2" y2="482.6" stroke-width="1.4"/>
<path d="M2412.6 482.6 L2442.6 476.8 L2442.6 488.3Z" stroke-width="1.6" stroke-linejoin="miter"/>
<path d="M2618.9 482.6 L2588.9 488.3 L2588.9 476.8Z" stroke-width="1.6" stroke-linejoin="miter"/>
<path d="M2618.9 482.6 L2648.9 476.8 L2648.9 488.3Z" stroke-width="1.6" stroke-linejoin="miter"/>
<path d="M2825.2 482.6 L2795.2 488.3 L2795.2 476.8Z" stroke-width="1.6" stroke-linejoin="miter"/>
<line x1="2412.6" y1="470.6" x2="2412.6" y2="1171.4" stroke-width="1.3"/>
<line x1="2825.2" y1="470.6" x2="2825.2" y2="1171.4" stroke-width="1.3"/>
<text x="2491.4" y="473.7" text-anchor="middle" textLength="66" lengthAdjust="spacingAndGlyphs" fill="#1a1a1a" stroke="#fff" stroke-width="0.5" font-size="32.5">45.6</text>
<text x="2702.4" y="473.5" text-anchor="middle" textLength="66" lengthAdjust="spacingAndGlyphs" fill="#1a1a1a" stroke="#fff" stroke-width="0.5" font-size="32.5">45.6</text>
<line x1="2656.8" y1="548.1" x2="2781.8" y2="548.1" stroke-width="1.5"/>
<line x1="2656.8" y1="548.1" x2="2581" y2="684.1" stroke-width="1.4"/>
<path d="M2623.7 607.6 L2633.1 578.6 L2643.2 584.1Z" stroke-width="1.6" stroke-linejoin="miter"/>
<text x="2724.3" y="541.2" textLength="48" lengthAdjust="spacingAndGlyphs" fill="#1a1a1a" stroke="#fff" stroke-width="0.5" font-size="33.5">4.3</text>
<circle cx="2705.3" cy="529.8" r="11.2" stroke-width="1.7"/>
<line x1="2697.8" y1="546.8" x2="2712.8" y2="512.8" stroke-width="1.7"/>
<line x1="2790.6" y1="571.8" x2="2960.6" y2="571.8" stroke-width="1.5"/>
<path d="M2811.2 534.7 Q2800.2 554.7 2811.2 574.7" stroke-width="1.6"/>
<path d="M2953.6 534.7 Q2964.6 554.7 2953.6 574.7" stroke-width="1.6"/>
<circle cx="2838" cy="554.8" r="11.2" stroke-width="1.7"/>
<line x1="2830.5" y1="571.8" x2="2845.5" y2="537.8" stroke-width="1.7"/>
<text x="2860.6" y="565.7" textLength="84" lengthAdjust="spacingAndGlyphs" fill="#1a1a1a" stroke="#fff" stroke-width="0.5" font-size="33.5">153.4</text>
<line x1="2790.6" y1="571.8" x2="2454.8" y2="1355.4" stroke-width="1.4"/>
<path d="M2752.9 643.3 L2746.6 673.2 L2736 668.8Z" stroke-width="1.6" stroke-linejoin="miter"/>
<path d="M2484.9 1283.5 L2491.2 1253.6 L2501.8 1258Z" stroke-width="1.6" stroke-linejoin="miter"/>
<line x1="2156.3" y1="616.4" x2="2156.3" y2="1205.2" stroke-width="1.4"/>
<path d="M2156.3 616.4 L2162.1 646.4 L2150.6 646.4Z" stroke-width="1.6" stroke-linejoin="miter"/>
<path d="M2156.3 963.4 L2150.6 933.4 L2162.1 933.4Z" stroke-width="1.6" stroke-linejoin="miter"/>
<path d="M2156.3 1136.9 L2162.1 1166.9 L2150.6 1166.9Z" stroke-width="1.6" stroke-linejoin="miter"/>
<line x1="2143.3" y1="616.4" x2="2618.9" y2="616.4" stroke-width="1.3"/>
<line x1="2143.3" y1="963.4" x2="2256.3" y2="963.4" stroke-width="1.3"/>
<line x1="2143.3" y1="1136.9" x2="2318.4" y2="1136.9" stroke-width="1.3"/>
<text transform="translate(2149.9 765.5) rotate(-90)" text-anchor="middle" font-size="32.5" textLength="64" lengthAdjust="spacingAndGlyphs" fill="#1a1a1a" stroke="#fff" stroke-width="0.5">76.7</text>
<text transform="translate(2147.6 1052.5) rotate(-90)" text-anchor="middle" font-size="32.5" textLength="84" lengthAdjust="spacingAndGlyphs" fill="#1a1a1a" stroke="#fff" stroke-width="0.5">38.35</text>
<line x1="3106.3" y1="758.2" x2="3106.3" y2="1168.6" stroke-width="1.4"/>
<path d="M3106.3 758.2 L3112.1 788.2 L3100.6 788.2Z" stroke-width="1.6" stroke-linejoin="miter"/>
<path d="M3106.3 963.4 L3100.6 933.4 L3112.1 933.4Z" stroke-width="1.6" stroke-linejoin="miter"/>
<path d="M3106.3 963.4 L3112.1 993.4 L3100.6 993.4Z" stroke-width="1.6" stroke-linejoin="miter"/>
<path d="M3106.3 1168.6 L3100.6 1138.6 L3112.1 1138.6Z" stroke-width="1.6" stroke-linejoin="miter"/>
<line x1="2825.2" y1="758.2" x2="3116.3" y2="758.2" stroke-width="1.3"/>
<line x1="2825.2" y1="1168.6" x2="3116.3" y2="1168.6" stroke-width="1.3"/>
<text transform="translate(3098.3 848.5) rotate(-90)" text-anchor="middle" font-size="32.5" textLength="66" lengthAdjust="spacingAndGlyphs" fill="#1a1a1a" stroke="#fff" stroke-width="0.5">45.6</text>
<text transform="translate(3096.5 1061.6) rotate(-90)" text-anchor="middle" font-size="32.5" textLength="66" lengthAdjust="spacingAndGlyphs" fill="#1a1a1a" stroke="#fff" stroke-width="0.5">45.6</text>
</g>
<polygon points="0,0 7,0 21.6,2474 0,2474" fill="#050505" stroke="none"/>
<polygon points="0,2473.2 3508,2461.5 3508,2482 0,2482" fill="#050505" stroke="none"/>
<rect x="0" y="0" width="330" height="1.3" fill="#222" stroke="none"/>
<rect x="3506.3" y="0" width="1.7" height="2482" fill="#111" stroke="none"/>
<ellipse cx="3296" cy="67.5" rx="5.5" ry="3.5" fill="#333" stroke="none"/>
<ellipse cx="3396" cy="71" rx="6" ry="4.5" fill="#111" stroke="none"/>
</g>
</svg>
</body></html>
